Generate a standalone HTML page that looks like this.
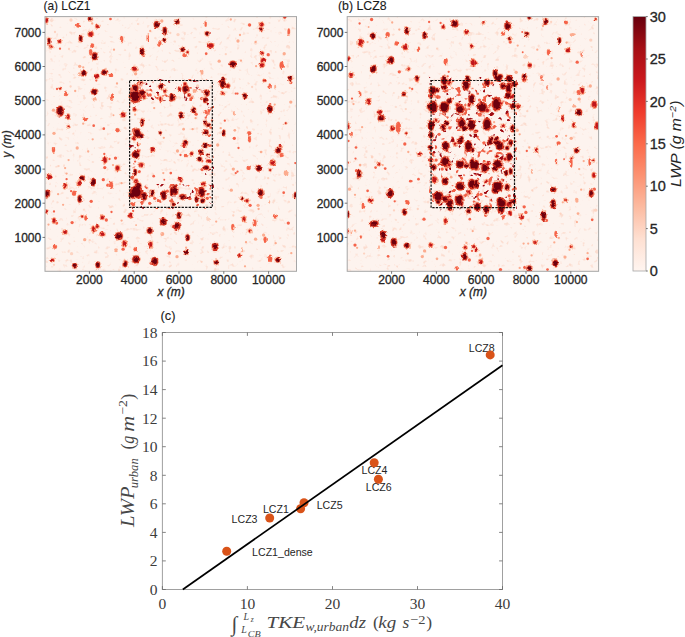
<!DOCTYPE html><html><head><meta charset="utf-8"><style>html,body{margin:0;padding:0;background:#fff;width:685px;height:637px;overflow:hidden}svg{display:block}text{font-family:"Liberation Sans",sans-serif}.b{stroke:#262626;stroke-width:0.3px}.t{stroke:#1a1a1a;stroke-width:0.12px}.s text{font-family:"Liberation Serif",serif}.s .n{font-style:normal}</style></head><body>
<svg width="685" height="637" viewBox="0 0 685 637">
<defs><linearGradient id="cb" x1="0" y1="1" x2="0" y2="0">
<stop offset="0.0000" stop-color="#fff5f0"/>
<stop offset="0.1250" stop-color="#fee0d2"/>
<stop offset="0.2500" stop-color="#fcbba1"/>
<stop offset="0.3750" stop-color="#fc9272"/>
<stop offset="0.5000" stop-color="#fb6a4a"/>
<stop offset="0.6250" stop-color="#ef3b2c"/>
<stop offset="0.7500" stop-color="#cb181d"/>
<stop offset="0.8750" stop-color="#a50f15"/>
<stop offset="1.0000" stop-color="#67000d"/>
</linearGradient>
<clipPath id="ca"><rect x="45.0" y="16.6" width="251.5" height="254.70000000000002"/></clipPath>
<clipPath id="cbb"><rect x="347.2" y="16.6" width="251.40000000000003" height="254.70000000000002"/></clipPath>
<filter id="bl" color-interpolation-filters="sRGB" x="-5%" y="-5%" width="110%" height="110%"><feTurbulence type="fractalNoise" baseFrequency="0.3" numOctaves="2" seed="3" result="t"/><feDisplacementMap in="SourceGraphic" in2="t" scale="3.2" xChannelSelector="R" yChannelSelector="G" result="d"/><feGaussianBlur in="d" stdDeviation="0.4"/></filter>
<filter id="spk" color-interpolation-filters="sRGB" x="0" y="0" width="100%" height="100%"><feTurbulence type="fractalNoise" baseFrequency="0.22" numOctaves="2" seed="11" result="n"/><feColorMatrix in="n" type="matrix" values="0 0 0 0 0.985  0 0 0 0 0.80  0 0 0 0 0.72  1 0 0 0 0" result="c"/><feComponentTransfer in="c"><feFuncA type="linear" slope="5" intercept="-3.1"/></feComponentTransfer></filter>
<filter id="bl2" color-interpolation-filters="sRGB" x="-5%" y="-5%" width="110%" height="110%"><feTurbulence type="fractalNoise" baseFrequency="0.5" numOctaves="2" seed="8" result="t"/><feDisplacementMap in="SourceGraphic" in2="t" scale="4" xChannelSelector="R" yChannelSelector="G" result="d"/><feGaussianBlur in="d" stdDeviation="0.5"/></filter>
<filter id="frg" color-interpolation-filters="sRGB" x="0" y="0" width="100%" height="100%"><feTurbulence type="fractalNoise" baseFrequency="0.16" numOctaves="2" seed="21" result="n"/><feColorMatrix in="n" type="matrix" values="0 0 0 0 0.94  0 0 0 0 0.38  0 0 0 0 0.28  1 0 0 0 0" result="c"/><feComponentTransfer in="c"><feFuncA type="linear" slope="12" intercept="-7.5"/></feComponentTransfer><feGaussianBlur stdDeviation="0.3"/></filter>
<filter id="frg2" color-interpolation-filters="sRGB" x="0" y="0" width="100%" height="100%"><feTurbulence type="fractalNoise" baseFrequency="0.18" numOctaves="2" seed="5" result="n"/><feColorMatrix in="n" type="matrix" values="0 0 0 0 0.62  0 0 0 0 0.04  0 0 0 0 0.07  1 0 0 0 0" result="c"/><feComponentTransfer in="c"><feFuncA type="linear" slope="12" intercept="-8.1"/></feComponentTransfer><feGaussianBlur stdDeviation="0.3"/></filter>
<clipPath id="ringA"><path clip-rule="evenodd" d="M129,79 H214 V209 H129 Z M136,101 H205 V184 H136 Z"/></clipPath>
<clipPath id="rectB"><rect x="429" y="77" width="88" height="134"/></clipPath>
<filter id="sb" color-interpolation-filters="sRGB" x="-5%" y="-5%" width="110%" height="110%"><feGaussianBlur stdDeviation="0.45"/></filter>
</defs>
<rect x="45.0" y="16.6" width="251.5" height="254.70000000000002" fill="#fdf3ee"/>
<rect x="45.0" y="16.6" width="251.5" height="254.70000000000002" fill="#fff" filter="url(#spk)" opacity="0.55"/>
<g clip-path="url(#ringA)"><rect x="129" y="79" width="85" height="130" fill="#fff" filter="url(#frg)"/><rect x="129" y="79" width="85" height="130" fill="#fff" filter="url(#frg2)"/></g>
<g clip-path="url(#ca)"><g filter="url(#sb)"><ellipse cx="71.0" cy="20.0" rx="1.65" ry="1.65" fill="#fdd3c1"/><ellipse cx="55.0" cy="32.0" rx="1.15" ry="1.15" fill="#fdd3c1"/><ellipse cx="69.0" cy="49.0" rx="1.15" ry="1.15" fill="#fdd3c1"/><ellipse cx="170.3" cy="33.0" rx="1.15" ry="1.15" fill="#fdd3c1"/><ellipse cx="138.0" cy="24.0" rx="0.95" ry="0.95" fill="#fdd3c1"/><ellipse cx="178.0" cy="34.6" rx="1.65" ry="1.65" fill="#fdd3c1"/><ellipse cx="225.8" cy="54.2" rx="1.15" ry="1.15" fill="#fdd3c1"/><ellipse cx="70.6" cy="86.5" rx="1.15" ry="1.15" fill="#fdd3c1"/><ellipse cx="197.6" cy="86.0" rx="1.65" ry="1.65" fill="#fdd3c1"/><ellipse cx="252.1" cy="87.0" rx="1.15" ry="1.15" fill="#fdd3c1"/><ellipse cx="58.6" cy="166.1" rx="1.15" ry="1.15" fill="#fdd3c1"/><ellipse cx="268.2" cy="178.2" rx="1.15" ry="1.15" fill="#fdd3c1"/><ellipse cx="71.6" cy="253.7" rx="1.65" ry="1.65" fill="#fdd3c1"/><ellipse cx="54.0" cy="264.8" rx="1.15" ry="1.15" fill="#fdd3c1"/><ellipse cx="89.7" cy="240.2" rx="1.15" ry="1.15" fill="#fdd3c1"/><ellipse cx="201.6" cy="261.8" rx="1.15" ry="1.15" fill="#fdd3c1"/><ellipse cx="233.3" cy="215.5" rx="1.15" ry="1.15" fill="#fdd3c1"/><ellipse cx="92.2" cy="23.5" rx="1.15" ry="1.15" fill="#fcac8f"/><ellipse cx="79.7" cy="66.3" rx="1.65" ry="1.65" fill="#fcac8f"/><ellipse cx="83.2" cy="67.3" rx="1.15" ry="1.15" fill="#fcac8f"/><ellipse cx="105.3" cy="69.3" rx="1.15" ry="1.15" fill="#fcac8f"/><ellipse cx="161.8" cy="21.0" rx="1.65" ry="1.65" fill="#fcac8f"/><ellipse cx="150.2" cy="31.0" rx="1.15" ry="1.15" fill="#fcac8f"/><ellipse cx="114.0" cy="49.7" rx="1.15" ry="1.15" fill="#fcac8f"/><ellipse cx="135.6" cy="73.8" rx="1.65" ry="1.65" fill="#fcac8f"/><ellipse cx="219.2" cy="61.2" rx="1.65" ry="1.65" fill="#fcac8f"/><ellipse cx="230.8" cy="19.5" rx="1.15" ry="1.15" fill="#fcac8f"/><ellipse cx="240.0" cy="35.0" rx="1.15" ry="1.15" fill="#fcac8f"/><ellipse cx="238.0" cy="41.0" rx="1.65" ry="1.65" fill="#fcac8f"/><ellipse cx="255.6" cy="42.0" rx="1.15" ry="1.15" fill="#fcac8f"/><ellipse cx="284.2" cy="53.7" rx="1.65" ry="1.65" fill="#fcac8f"/><ellipse cx="241.0" cy="60.7" rx="1.15" ry="1.15" fill="#fcac8f"/><ellipse cx="256.1" cy="66.2" rx="1.15" ry="1.15" fill="#fcac8f"/><ellipse cx="53.5" cy="110.2" rx="1.65" ry="1.65" fill="#fcac8f"/><ellipse cx="83.2" cy="123.7" rx="1.15" ry="1.15" fill="#fcac8f"/><ellipse cx="54.0" cy="133.3" rx="1.65" ry="1.65" fill="#fcac8f"/><ellipse cx="92.7" cy="139.3" rx="1.15" ry="1.15" fill="#fcac8f"/><ellipse cx="75.2" cy="91.0" rx="1.15" ry="1.15" fill="#fcac8f"/><ellipse cx="154.2" cy="108.1" rx="1.15" ry="1.15" fill="#fcac8f"/><ellipse cx="163.8" cy="137.8" rx="1.15" ry="1.15" fill="#fcac8f"/><ellipse cx="135.1" cy="114.7" rx="1.15" ry="1.15" fill="#fcac8f"/><ellipse cx="117.0" cy="83.5" rx="1.15" ry="1.15" fill="#fcac8f"/><ellipse cx="113.5" cy="115.2" rx="0.95" ry="0.95" fill="#fcac8f"/><ellipse cx="195.6" cy="118.2" rx="1.15" ry="1.15" fill="#fcac8f"/><ellipse cx="183.6" cy="129.2" rx="1.35" ry="1.35" fill="#fcac8f"/><ellipse cx="192.6" cy="129.2" rx="1.15" ry="1.15" fill="#fcac8f"/><ellipse cx="220.7" cy="128.2" rx="1.15" ry="1.15" fill="#fcac8f"/><ellipse cx="234.8" cy="130.3" rx="1.35" ry="1.35" fill="#fcac8f"/><ellipse cx="290.8" cy="102.1" rx="1.65" ry="1.65" fill="#fcac8f"/><ellipse cx="274.7" cy="104.6" rx="1.15" ry="1.15" fill="#fcac8f"/><ellipse cx="77.2" cy="148.0" rx="1.65" ry="1.65" fill="#fcac8f"/><ellipse cx="91.2" cy="182.2" rx="1.65" ry="1.65" fill="#fcac8f"/><ellipse cx="66.6" cy="173.6" rx="1.15" ry="1.15" fill="#fcac8f"/><ellipse cx="65.1" cy="168.1" rx="1.15" ry="1.15" fill="#fcac8f"/><ellipse cx="68.6" cy="160.1" rx="1.15" ry="1.15" fill="#fcac8f"/><ellipse cx="58.1" cy="194.2" rx="1.15" ry="1.15" fill="#fcac8f"/><ellipse cx="63.1" cy="204.8" rx="1.15" ry="1.15" fill="#fcac8f"/><ellipse cx="88.2" cy="151.5" rx="1.15" ry="1.15" fill="#fcac8f"/><ellipse cx="163.3" cy="173.1" rx="1.15" ry="1.15" fill="#fcac8f"/><ellipse cx="121.6" cy="183.2" rx="1.15" ry="1.15" fill="#fcac8f"/><ellipse cx="113.0" cy="165.1" rx="1.15" ry="1.15" fill="#fcac8f"/><ellipse cx="177.5" cy="151.0" rx="1.65" ry="1.65" fill="#fcac8f"/><ellipse cx="180.0" cy="184.2" rx="1.15" ry="1.15" fill="#fcac8f"/><ellipse cx="233.3" cy="169.1" rx="1.65" ry="1.65" fill="#fcac8f"/><ellipse cx="231.3" cy="190.2" rx="1.65" ry="1.65" fill="#fcac8f"/><ellipse cx="217.7" cy="145.0" rx="1.65" ry="1.65" fill="#fcac8f"/><ellipse cx="261.1" cy="152.0" rx="1.35" ry="1.35" fill="#fcac8f"/><ellipse cx="258.1" cy="205.3" rx="1.65" ry="1.65" fill="#fcac8f"/><ellipse cx="84.7" cy="239.7" rx="1.65" ry="1.65" fill="#fcac8f"/><ellipse cx="48.5" cy="224.6" rx="1.15" ry="1.15" fill="#fcac8f"/><ellipse cx="121.6" cy="220.6" rx="1.15" ry="1.15" fill="#fcac8f"/><ellipse cx="136.1" cy="225.1" rx="0.95" ry="0.95" fill="#fcac8f"/><ellipse cx="186.1" cy="247.7" rx="1.15" ry="1.15" fill="#fcac8f"/><ellipse cx="216.2" cy="221.6" rx="1.15" ry="1.15" fill="#fcac8f"/><ellipse cx="177.0" cy="256.7" rx="1.65" ry="1.65" fill="#fcac8f"/><ellipse cx="255.6" cy="239.2" rx="1.65" ry="1.65" fill="#fcac8f"/><ellipse cx="291.3" cy="253.2" rx="1.15" ry="1.15" fill="#fcac8f"/><ellipse cx="246.0" cy="242.2" rx="1.15" ry="1.15" fill="#fcac8f"/><ellipse cx="258.6" cy="209.0" rx="1.15" ry="1.15" fill="#fcac8f"/><ellipse cx="263.6" cy="235.1" rx="1.65" ry="1.65" fill="#fcac8f"/><ellipse cx="275.7" cy="243.2" rx="1.15" ry="1.15" fill="#fcac8f"/><ellipse cx="245.0" cy="266.3" rx="1.15" ry="1.15" fill="#fcac8f"/><ellipse cx="60.0" cy="48.7" rx="1.15" ry="1.15" fill="#f5634a"/><ellipse cx="110.5" cy="19.0" rx="1.35" ry="1.35" fill="#f5634a"/><ellipse cx="143.7" cy="55.7" rx="1.35" ry="1.35" fill="#f5634a"/><ellipse cx="206.2" cy="53.7" rx="1.35" ry="1.35" fill="#f5634a"/><ellipse cx="249.6" cy="25.0" rx="1.65" ry="1.65" fill="#f5634a"/><ellipse cx="268.2" cy="54.7" rx="1.65" ry="1.65" fill="#f5634a"/><ellipse cx="57.0" cy="89.0" rx="1.15" ry="1.15" fill="#f5634a"/><ellipse cx="93.7" cy="125.7" rx="1.35" ry="1.35" fill="#f5634a"/><ellipse cx="103.8" cy="128.7" rx="1.35" ry="1.35" fill="#f5634a"/><ellipse cx="96.3" cy="80.5" rx="1.15" ry="1.15" fill="#f5634a"/><ellipse cx="158.2" cy="95.0" rx="1.15" ry="1.15" fill="#f5634a"/><ellipse cx="150.2" cy="95.0" rx="1.65" ry="1.65" fill="#f5634a"/><ellipse cx="147.7" cy="94.6" rx="1.15" ry="1.15" fill="#f5634a"/><ellipse cx="201.6" cy="98.6" rx="1.65" ry="1.65" fill="#f5634a"/><ellipse cx="196.1" cy="114.2" rx="1.65" ry="1.65" fill="#f5634a"/><ellipse cx="205.7" cy="117.7" rx="1.15" ry="1.15" fill="#f5634a"/><ellipse cx="210.7" cy="127.2" rx="1.65" ry="1.65" fill="#f5634a"/><ellipse cx="224.8" cy="120.7" rx="1.15" ry="1.15" fill="#f5634a"/><ellipse cx="234.3" cy="138.3" rx="1.65" ry="1.65" fill="#f5634a"/><ellipse cx="235.8" cy="93.6" rx="1.15" ry="1.15" fill="#f5634a"/><ellipse cx="270.2" cy="104.1" rx="1.15" ry="1.15" fill="#f5634a"/><ellipse cx="290.8" cy="82.5" rx="1.65" ry="1.65" fill="#f5634a"/><ellipse cx="237.5" cy="93.6" rx="1.15" ry="1.15" fill="#f5634a"/><ellipse cx="71.1" cy="191.2" rx="1.15" ry="1.15" fill="#f5634a"/><ellipse cx="104.8" cy="167.6" rx="1.65" ry="1.65" fill="#f5634a"/><ellipse cx="104.3" cy="154.0" rx="1.15" ry="1.15" fill="#f5634a"/><ellipse cx="103.3" cy="179.7" rx="1.65" ry="1.65" fill="#f5634a"/><ellipse cx="107.8" cy="185.2" rx="1.65" ry="1.65" fill="#f5634a"/><ellipse cx="66.6" cy="179.2" rx="1.15" ry="1.15" fill="#f5634a"/><ellipse cx="91.2" cy="201.3" rx="1.65" ry="1.65" fill="#f5634a"/><ellipse cx="135.1" cy="161.6" rx="1.15" ry="1.15" fill="#f5634a"/><ellipse cx="139.2" cy="171.6" rx="1.65" ry="1.65" fill="#f5634a"/><ellipse cx="154.7" cy="198.3" rx="1.65" ry="1.65" fill="#f5634a"/><ellipse cx="167.3" cy="191.2" rx="1.65" ry="1.65" fill="#f5634a"/><ellipse cx="149.7" cy="203.3" rx="1.65" ry="1.65" fill="#f5634a"/><ellipse cx="153.7" cy="176.2" rx="1.35" ry="1.35" fill="#f5634a"/><ellipse cx="170.8" cy="173.1" rx="1.35" ry="1.35" fill="#f5634a"/><ellipse cx="164.3" cy="179.7" rx="0.95" ry="0.95" fill="#f5634a"/><ellipse cx="115.5" cy="158.1" rx="1.65" ry="1.65" fill="#f5634a"/><ellipse cx="109.5" cy="159.0" rx="1.15" ry="1.15" fill="#f5634a"/><ellipse cx="202.1" cy="161.1" rx="1.35" ry="1.35" fill="#f5634a"/><ellipse cx="202.1" cy="169.6" rx="1.65" ry="1.65" fill="#f5634a"/><ellipse cx="180.5" cy="155.0" rx="1.15" ry="1.15" fill="#f5634a"/><ellipse cx="207.2" cy="198.3" rx="1.65" ry="1.65" fill="#f5634a"/><ellipse cx="235.8" cy="173.1" rx="1.15" ry="1.15" fill="#f5634a"/><ellipse cx="261.1" cy="197.3" rx="1.65" ry="1.65" fill="#f5634a"/><ellipse cx="250.1" cy="205.3" rx="1.65" ry="1.65" fill="#f5634a"/><ellipse cx="295.3" cy="163.1" rx="1.15" ry="1.15" fill="#f5634a"/><ellipse cx="283.7" cy="192.7" rx="1.35" ry="1.35" fill="#f5634a"/><ellipse cx="238.5" cy="148.0" rx="1.15" ry="1.15" fill="#f5634a"/><ellipse cx="237.5" cy="171.6" rx="1.15" ry="1.15" fill="#f5634a"/><ellipse cx="54.0" cy="211.5" rx="1.15" ry="1.15" fill="#f5634a"/><ellipse cx="56.6" cy="223.1" rx="1.65" ry="1.65" fill="#f5634a"/><ellipse cx="72.1" cy="222.6" rx="1.65" ry="1.65" fill="#f5634a"/><ellipse cx="106.3" cy="220.0" rx="1.65" ry="1.65" fill="#f5634a"/><ellipse cx="133.1" cy="211.0" rx="1.15" ry="1.15" fill="#f5634a"/><ellipse cx="123.1" cy="249.2" rx="1.65" ry="1.65" fill="#f5634a"/><ellipse cx="133.6" cy="261.3" rx="1.65" ry="1.65" fill="#f5634a"/><ellipse cx="151.2" cy="263.3" rx="1.65" ry="1.65" fill="#f5634a"/><ellipse cx="169.3" cy="253.2" rx="1.65" ry="1.65" fill="#f5634a"/><ellipse cx="111.5" cy="212.0" rx="1.15" ry="1.15" fill="#f5634a"/><ellipse cx="288.3" cy="223.1" rx="1.65" ry="1.65" fill="#f5634a"/></g><g filter="url(#bl2)"><ellipse cx="46.5" cy="20.5" rx="2.30" ry="3.60" fill="#fcc0a8"/><ellipse cx="90.2" cy="19.0" rx="3.10" ry="3.10" fill="#fcc0a8"/><ellipse cx="97.3" cy="26.5" rx="2.60" ry="2.60" fill="#fcc0a8"/><ellipse cx="90.7" cy="34.0" rx="3.60" ry="3.60" fill="#fcc0a8"/><ellipse cx="80.7" cy="38.6" rx="2.60" ry="4.10" fill="#fcc0a8"/><ellipse cx="49.0" cy="41.0" rx="2.30" ry="4.10" fill="#fcc0a8"/><ellipse cx="51.0" cy="47.0" rx="2.60" ry="2.60" fill="#fcc0a8"/><ellipse cx="59.6" cy="41.6" rx="2.60" ry="2.60" fill="#fcc0a8"/><ellipse cx="94.7" cy="56.2" rx="3.60" ry="4.60" fill="#fcc0a8"/><ellipse cx="83.7" cy="73.3" rx="3.60" ry="3.60" fill="#fcc0a8"/><ellipse cx="104.3" cy="72.3" rx="3.60" ry="3.60" fill="#fcc0a8"/><ellipse cx="96.8" cy="76.3" rx="3.10" ry="3.10" fill="#fcc0a8"/><ellipse cx="156.7" cy="24.5" rx="3.60" ry="4.10" fill="#fcc0a8"/><ellipse cx="164.8" cy="31.0" rx="2.90" ry="5.10" fill="#fcc0a8"/><ellipse cx="164.3" cy="40.0" rx="2.60" ry="2.60" fill="#fcc0a8"/><ellipse cx="142.2" cy="51.7" rx="3.10" ry="4.60" fill="#fcc0a8"/><ellipse cx="134.6" cy="68.8" rx="3.60" ry="3.10" fill="#fcc0a8"/><ellipse cx="177.0" cy="22.0" rx="3.30" ry="3.30" fill="#fcc0a8"/><ellipse cx="207.2" cy="33.6" rx="3.10" ry="3.10" fill="#fcc0a8"/><ellipse cx="210.7" cy="45.6" rx="4.10" ry="3.60" fill="#fcc0a8"/><ellipse cx="182.5" cy="49.7" rx="2.90" ry="2.90" fill="#fcc0a8"/><ellipse cx="187.6" cy="52.2" rx="2.10" ry="2.10" fill="#fcc0a8"/><ellipse cx="232.8" cy="64.2" rx="4.10" ry="4.10" fill="#fcc0a8"/><ellipse cx="223.2" cy="79.3" rx="2.60" ry="2.60" fill="#fcc0a8"/><ellipse cx="261.6" cy="24.5" rx="3.10" ry="3.10" fill="#fcc0a8"/><ellipse cx="261.1" cy="29.6" rx="2.30" ry="3.10" fill="#fcc0a8"/><ellipse cx="262.1" cy="53.2" rx="2.60" ry="2.60" fill="#fcc0a8"/><ellipse cx="263.1" cy="60.2" rx="3.10" ry="3.10" fill="#fcc0a8"/><ellipse cx="262.1" cy="65.2" rx="3.10" ry="3.10" fill="#fcc0a8"/><ellipse cx="290.3" cy="77.8" rx="2.60" ry="2.60" fill="#fcc0a8"/><ellipse cx="284.7" cy="17.2" rx="2.30" ry="2.30" fill="#fcc0a8"/><ellipse cx="60.1" cy="111.2" rx="4.60" ry="6.10" fill="#fcc0a8"/><ellipse cx="68.1" cy="116.7" rx="2.60" ry="3.60" fill="#fcc0a8"/><ellipse cx="94.2" cy="91.6" rx="4.10" ry="3.60" fill="#fcc0a8"/><ellipse cx="60.1" cy="88.5" rx="2.10" ry="2.10" fill="#fcc0a8"/><ellipse cx="68.6" cy="126.7" rx="2.10" ry="2.10" fill="#fcc0a8"/><ellipse cx="135.1" cy="96.1" rx="6.60" ry="7.60" fill="#fcc0a8"/><ellipse cx="135.1" cy="88.0" rx="4.10" ry="4.10" fill="#fcc0a8"/><ellipse cx="142.2" cy="93.0" rx="4.60" ry="4.10" fill="#fcc0a8"/><ellipse cx="143.7" cy="97.0" rx="3.10" ry="3.10" fill="#fcc0a8"/><ellipse cx="141.2" cy="83.0" rx="2.30" ry="2.30" fill="#fcc0a8"/><ellipse cx="160.8" cy="86.5" rx="3.10" ry="3.60" fill="#fcc0a8"/><ellipse cx="164.8" cy="91.0" rx="2.60" ry="2.60" fill="#fcc0a8"/><ellipse cx="160.8" cy="99.1" rx="2.60" ry="3.60" fill="#fcc0a8"/><ellipse cx="171.8" cy="97.6" rx="3.10" ry="4.60" fill="#fcc0a8"/><ellipse cx="134.6" cy="109.6" rx="2.60" ry="2.60" fill="#fcc0a8"/><ellipse cx="123.1" cy="114.7" rx="3.30" ry="3.30" fill="#fcc0a8"/><ellipse cx="142.2" cy="122.2" rx="2.40" ry="4.60" fill="#fcc0a8"/><ellipse cx="137.1" cy="133.3" rx="4.60" ry="5.60" fill="#fcc0a8"/><ellipse cx="141.2" cy="135.8" rx="3.10" ry="3.10" fill="#fcc0a8"/><ellipse cx="134.1" cy="138.3" rx="3.10" ry="3.10" fill="#fcc0a8"/><ellipse cx="160.3" cy="132.8" rx="2.30" ry="2.30" fill="#fcc0a8"/><ellipse cx="174.0" cy="99.0" rx="2.10" ry="2.10" fill="#fcc0a8"/><ellipse cx="185.6" cy="89.0" rx="4.10" ry="4.60" fill="#fcc0a8"/><ellipse cx="185.0" cy="84.0" rx="2.60" ry="2.60" fill="#fcc0a8"/><ellipse cx="189.1" cy="95.0" rx="2.60" ry="2.60" fill="#fcc0a8"/><ellipse cx="179.5" cy="89.0" rx="2.60" ry="2.60" fill="#fcc0a8"/><ellipse cx="206.7" cy="93.0" rx="3.60" ry="4.10" fill="#fcc0a8"/><ellipse cx="205.2" cy="100.1" rx="3.10" ry="3.60" fill="#fcc0a8"/><ellipse cx="193.6" cy="110.2" rx="3.10" ry="3.60" fill="#fcc0a8"/><ellipse cx="181.0" cy="115.2" rx="3.10" ry="4.10" fill="#fcc0a8"/><ellipse cx="205.2" cy="122.7" rx="2.40" ry="3.60" fill="#fcc0a8"/><ellipse cx="208.2" cy="125.2" rx="2.60" ry="2.60" fill="#fcc0a8"/><ellipse cx="205.7" cy="132.3" rx="3.60" ry="3.60" fill="#fcc0a8"/><ellipse cx="185.6" cy="142.3" rx="3.10" ry="3.10" fill="#fcc0a8"/><ellipse cx="222.7" cy="84.0" rx="3.60" ry="5.10" fill="#fcc0a8"/><ellipse cx="227.8" cy="86.0" rx="3.10" ry="3.10" fill="#fcc0a8"/><ellipse cx="222.2" cy="93.0" rx="2.60" ry="2.60" fill="#fcc0a8"/><ellipse cx="220.2" cy="82.0" rx="2.10" ry="2.10" fill="#fcc0a8"/><ellipse cx="223.8" cy="132.8" rx="2.30" ry="4.10" fill="#fcc0a8"/><ellipse cx="245.0" cy="96.1" rx="2.90" ry="3.60" fill="#fcc0a8"/><ellipse cx="270.2" cy="109.1" rx="3.30" ry="4.60" fill="#fcc0a8"/><ellipse cx="289.8" cy="80.5" rx="2.10" ry="2.10" fill="#fcc0a8"/><ellipse cx="264.1" cy="80.5" rx="2.10" ry="2.10" fill="#fcc0a8"/><ellipse cx="285.7" cy="123.2" rx="1.80" ry="1.80" fill="#fcc0a8"/><ellipse cx="49.5" cy="176.7" rx="3.10" ry="3.10" fill="#fcc0a8"/><ellipse cx="47.0" cy="193.7" rx="3.60" ry="4.60" fill="#fcc0a8"/><ellipse cx="82.2" cy="178.2" rx="3.30" ry="3.30" fill="#fcc0a8"/><ellipse cx="79.2" cy="183.2" rx="2.60" ry="3.60" fill="#fcc0a8"/><ellipse cx="93.2" cy="182.2" rx="2.60" ry="5.10" fill="#fcc0a8"/><ellipse cx="65.1" cy="186.2" rx="2.90" ry="3.60" fill="#fcc0a8"/><ellipse cx="79.7" cy="198.8" rx="2.90" ry="4.60" fill="#fcc0a8"/><ellipse cx="104.8" cy="160.1" rx="3.10" ry="4.10" fill="#fcc0a8"/><ellipse cx="135.6" cy="155.0" rx="4.60" ry="4.60" fill="#fcc0a8"/><ellipse cx="138.1" cy="151.0" rx="2.60" ry="2.60" fill="#fcc0a8"/><ellipse cx="141.2" cy="165.1" rx="3.30" ry="3.30" fill="#fcc0a8"/><ellipse cx="135.1" cy="172.1" rx="2.60" ry="4.10" fill="#fcc0a8"/><ellipse cx="152.7" cy="149.5" rx="3.10" ry="3.10" fill="#fcc0a8"/><ellipse cx="136.1" cy="192.2" rx="7.10" ry="7.10" fill="#fcc0a8"/><ellipse cx="132.1" cy="195.3" rx="4.10" ry="4.10" fill="#fcc0a8"/><ellipse cx="138.1" cy="186.2" rx="4.10" ry="4.10" fill="#fcc0a8"/><ellipse cx="144.2" cy="196.3" rx="3.60" ry="5.10" fill="#fcc0a8"/><ellipse cx="136.1" cy="181.2" rx="3.10" ry="3.10" fill="#fcc0a8"/><ellipse cx="152.2" cy="193.2" rx="3.10" ry="4.10" fill="#fcc0a8"/><ellipse cx="163.8" cy="195.3" rx="3.60" ry="5.60" fill="#fcc0a8"/><ellipse cx="171.8" cy="191.2" rx="2.60" ry="5.10" fill="#fcc0a8"/><ellipse cx="117.5" cy="168.1" rx="3.10" ry="3.60" fill="#fcc0a8"/><ellipse cx="138.1" cy="144.5" rx="2.10" ry="2.10" fill="#fcc0a8"/><ellipse cx="184.1" cy="145.0" rx="3.10" ry="3.10" fill="#fcc0a8"/><ellipse cx="205.2" cy="145.5" rx="3.30" ry="3.30" fill="#fcc0a8"/><ellipse cx="201.1" cy="152.0" rx="3.10" ry="3.60" fill="#fcc0a8"/><ellipse cx="199.6" cy="159.1" rx="3.10" ry="3.10" fill="#fcc0a8"/><ellipse cx="207.7" cy="155.0" rx="2.30" ry="2.30" fill="#fcc0a8"/><ellipse cx="208.7" cy="161.1" rx="3.60" ry="2.60" fill="#fcc0a8"/><ellipse cx="206.2" cy="167.6" rx="3.60" ry="3.10" fill="#fcc0a8"/><ellipse cx="191.6" cy="153.5" rx="2.60" ry="2.60" fill="#fcc0a8"/><ellipse cx="175.0" cy="190.0" rx="4.10" ry="6.10" fill="#fcc0a8"/><ellipse cx="180.5" cy="179.2" rx="2.90" ry="2.90" fill="#fcc0a8"/><ellipse cx="182.5" cy="196.8" rx="4.10" ry="3.60" fill="#fcc0a8"/><ellipse cx="201.6" cy="192.2" rx="4.10" ry="6.10" fill="#fcc0a8"/><ellipse cx="203.7" cy="184.2" rx="3.10" ry="3.10" fill="#fcc0a8"/><ellipse cx="196.6" cy="199.3" rx="2.60" ry="4.10" fill="#fcc0a8"/><ellipse cx="202.6" cy="200.8" rx="3.10" ry="3.10" fill="#fcc0a8"/><ellipse cx="173.5" cy="204.3" rx="2.60" ry="2.60" fill="#fcc0a8"/><ellipse cx="278.2" cy="150.5" rx="3.60" ry="3.60" fill="#fcc0a8"/><ellipse cx="280.2" cy="146.0" rx="2.30" ry="2.30" fill="#fcc0a8"/><ellipse cx="272.7" cy="162.6" rx="3.60" ry="3.60" fill="#fcc0a8"/><ellipse cx="258.6" cy="168.1" rx="3.60" ry="4.10" fill="#fcc0a8"/><ellipse cx="270.2" cy="170.1" rx="2.10" ry="2.10" fill="#fcc0a8"/><ellipse cx="260.6" cy="192.7" rx="3.60" ry="4.60" fill="#fcc0a8"/><ellipse cx="242.0" cy="198.3" rx="2.60" ry="2.60" fill="#fcc0a8"/><ellipse cx="247.0" cy="200.8" rx="2.60" ry="2.60" fill="#fcc0a8"/><ellipse cx="295.3" cy="195.3" rx="2.10" ry="4.10" fill="#fcc0a8"/><ellipse cx="46.5" cy="211.5" rx="2.60" ry="2.60" fill="#fcc0a8"/><ellipse cx="54.0" cy="220.6" rx="2.60" ry="3.60" fill="#fcc0a8"/><ellipse cx="82.2" cy="216.5" rx="2.10" ry="2.10" fill="#fcc0a8"/><ellipse cx="65.1" cy="232.1" rx="3.10" ry="3.10" fill="#fcc0a8"/><ellipse cx="93.7" cy="229.1" rx="2.90" ry="4.10" fill="#fcc0a8"/><ellipse cx="97.3" cy="226.6" rx="2.60" ry="2.60" fill="#fcc0a8"/><ellipse cx="102.3" cy="217.5" rx="2.90" ry="2.90" fill="#fcc0a8"/><ellipse cx="102.3" cy="234.1" rx="3.60" ry="2.90" fill="#fcc0a8"/><ellipse cx="52.5" cy="260.3" rx="2.60" ry="2.60" fill="#fcc0a8"/><ellipse cx="74.6" cy="265.3" rx="3.10" ry="3.10" fill="#fcc0a8"/><ellipse cx="97.8" cy="264.8" rx="3.10" ry="4.10" fill="#fcc0a8"/><ellipse cx="130.6" cy="215.5" rx="2.90" ry="3.60" fill="#fcc0a8"/><ellipse cx="163.3" cy="221.6" rx="4.10" ry="4.60" fill="#fcc0a8"/><ellipse cx="149.7" cy="230.6" rx="3.60" ry="4.10" fill="#fcc0a8"/><ellipse cx="119.0" cy="236.1" rx="4.60" ry="4.60" fill="#fcc0a8"/><ellipse cx="124.6" cy="243.7" rx="3.10" ry="4.10" fill="#fcc0a8"/><ellipse cx="150.7" cy="244.7" rx="2.60" ry="4.60" fill="#fcc0a8"/><ellipse cx="136.1" cy="259.3" rx="4.60" ry="4.60" fill="#fcc0a8"/><ellipse cx="154.7" cy="261.3" rx="4.10" ry="5.10" fill="#fcc0a8"/><ellipse cx="125.1" cy="263.8" rx="3.10" ry="4.10" fill="#fcc0a8"/><ellipse cx="179.0" cy="215.5" rx="3.10" ry="4.10" fill="#fcc0a8"/><ellipse cx="177.0" cy="226.1" rx="4.10" ry="4.60" fill="#fcc0a8"/><ellipse cx="174.0" cy="226.6" rx="2.60" ry="2.60" fill="#fcc0a8"/><ellipse cx="187.6" cy="237.6" rx="2.90" ry="4.10" fill="#fcc0a8"/><ellipse cx="186.1" cy="252.2" rx="2.60" ry="3.10" fill="#fcc0a8"/><ellipse cx="215.2" cy="246.7" rx="4.10" ry="4.10" fill="#fcc0a8"/><ellipse cx="216.2" cy="262.3" rx="3.10" ry="3.10" fill="#fcc0a8"/><ellipse cx="244.0" cy="219.1" rx="2.60" ry="3.60" fill="#fcc0a8"/><ellipse cx="250.1" cy="231.1" rx="2.60" ry="2.60" fill="#fcc0a8"/><ellipse cx="277.7" cy="259.8" rx="3.30" ry="3.30" fill="#fcc0a8"/><ellipse cx="239.5" cy="255.7" rx="2.30" ry="2.30" fill="#fcc0a8"/></g><g filter="url(#bl)"><ellipse cx="46.5" cy="20.5" rx="1.60" ry="2.90" fill="#f26848"/><ellipse cx="90.2" cy="19.0" rx="2.40" ry="2.40" fill="#d0301f"/><ellipse cx="78.2" cy="25.5" rx="2.40" ry="2.40" fill="#fcbba1"/><ellipse cx="97.3" cy="26.5" rx="1.90" ry="1.90" fill="#f26848"/><ellipse cx="90.7" cy="34.0" rx="2.90" ry="2.90" fill="#f26848"/><ellipse cx="80.7" cy="38.6" rx="1.90" ry="3.40" fill="#d0301f"/><ellipse cx="49.0" cy="41.0" rx="1.60" ry="3.40" fill="#d0301f"/><ellipse cx="51.0" cy="47.0" rx="1.90" ry="1.90" fill="#f26848"/><ellipse cx="59.6" cy="41.6" rx="1.90" ry="1.90" fill="#f26848"/><ellipse cx="92.2" cy="45.6" rx="2.40" ry="2.40" fill="#fcbba1"/><ellipse cx="90.7" cy="52.2" rx="1.90" ry="3.40" fill="#fcbba1"/><ellipse cx="94.7" cy="56.2" rx="2.90" ry="3.90" fill="#d0301f"/><ellipse cx="83.7" cy="73.3" rx="2.90" ry="2.90" fill="#d0301f"/><ellipse cx="104.3" cy="72.3" rx="2.90" ry="2.90" fill="#d0301f"/><ellipse cx="96.8" cy="76.3" rx="2.40" ry="2.40" fill="#f26848"/><ellipse cx="156.7" cy="24.5" rx="2.90" ry="3.40" fill="#d0301f"/><ellipse cx="164.8" cy="31.0" rx="2.20" ry="4.40" fill="#d0301f"/><ellipse cx="164.3" cy="40.0" rx="1.90" ry="1.90" fill="#d0301f"/><ellipse cx="159.3" cy="43.6" rx="2.40" ry="3.40" fill="#fcbba1"/><ellipse cx="147.7" cy="38.0" rx="1.40" ry="4.40" fill="#fcbba1"/><ellipse cx="121.6" cy="39.6" rx="1.90" ry="3.90" fill="#fcbba1"/><ellipse cx="142.2" cy="51.7" rx="2.40" ry="3.90" fill="#d0301f"/><ellipse cx="134.6" cy="68.8" rx="2.90" ry="2.40" fill="#f26848"/><ellipse cx="111.0" cy="75.8" rx="2.40" ry="2.40" fill="#fcbba1"/><ellipse cx="177.0" cy="22.0" rx="2.60" ry="2.60" fill="#d0301f"/><ellipse cx="205.7" cy="24.0" rx="1.40" ry="3.40" fill="#fcbba1"/><ellipse cx="207.2" cy="33.6" rx="2.40" ry="2.40" fill="#d0301f"/><ellipse cx="210.7" cy="45.6" rx="3.40" ry="2.90" fill="#f26848"/><ellipse cx="182.5" cy="49.7" rx="2.20" ry="2.20" fill="#d0301f"/><ellipse cx="187.6" cy="52.2" rx="1.40" ry="1.40" fill="#f26848"/><ellipse cx="184.6" cy="55.2" rx="2.40" ry="2.40" fill="#fcbba1"/><ellipse cx="232.8" cy="64.2" rx="3.40" ry="3.40" fill="#d0301f"/><ellipse cx="223.2" cy="79.3" rx="1.90" ry="1.90" fill="#d0301f"/><ellipse cx="261.6" cy="24.5" rx="2.40" ry="2.40" fill="#f26848"/><ellipse cx="261.1" cy="29.6" rx="1.60" ry="2.40" fill="#d0301f"/><ellipse cx="288.8" cy="32.0" rx="1.60" ry="3.90" fill="#fcbba1"/><ellipse cx="262.1" cy="53.2" rx="1.90" ry="1.90" fill="#f26848"/><ellipse cx="263.1" cy="60.2" rx="2.40" ry="2.40" fill="#f26848"/><ellipse cx="262.1" cy="65.2" rx="2.40" ry="2.40" fill="#f26848"/><ellipse cx="281.7" cy="65.2" rx="2.40" ry="3.90" fill="#fcbba1"/><ellipse cx="290.3" cy="77.8" rx="1.90" ry="1.90" fill="#d0301f"/><ellipse cx="284.7" cy="17.2" rx="1.60" ry="1.60" fill="#f26848"/><ellipse cx="60.1" cy="111.2" rx="3.90" ry="5.40" fill="#d0301f"/><ellipse cx="68.1" cy="116.7" rx="1.90" ry="2.90" fill="#f26848"/><ellipse cx="94.2" cy="91.6" rx="3.40" ry="2.90" fill="#d0301f"/><ellipse cx="66.1" cy="94.0" rx="2.40" ry="2.40" fill="#fcbba1"/><ellipse cx="60.1" cy="88.5" rx="1.40" ry="1.40" fill="#f26848"/><ellipse cx="85.2" cy="119.2" rx="2.40" ry="2.40" fill="#fcbba1"/><ellipse cx="68.6" cy="126.7" rx="1.40" ry="1.40" fill="#f26848"/><ellipse cx="135.1" cy="96.1" rx="5.90" ry="6.90" fill="#d0301f"/><ellipse cx="135.1" cy="88.0" rx="3.40" ry="3.40" fill="#d0301f"/><ellipse cx="142.2" cy="93.0" rx="3.90" ry="3.40" fill="#d0301f"/><ellipse cx="143.7" cy="97.0" rx="2.40" ry="2.40" fill="#f26848"/><ellipse cx="132.1" cy="90.0" rx="2.40" ry="2.40" fill="#fcbba1"/><ellipse cx="141.2" cy="83.0" rx="1.60" ry="1.60" fill="#d0301f"/><ellipse cx="160.8" cy="86.5" rx="2.40" ry="2.90" fill="#d0301f"/><ellipse cx="164.8" cy="91.0" rx="1.90" ry="1.90" fill="#f26848"/><ellipse cx="160.8" cy="99.1" rx="1.90" ry="2.90" fill="#f26848"/><ellipse cx="171.8" cy="97.6" rx="2.40" ry="3.90" fill="#d0301f"/><ellipse cx="134.6" cy="109.6" rx="1.90" ry="1.90" fill="#f26848"/><ellipse cx="123.1" cy="114.7" rx="2.60" ry="2.60" fill="#f26848"/><ellipse cx="112.0" cy="96.6" rx="2.40" ry="3.40" fill="#fcbba1"/><ellipse cx="142.2" cy="122.2" rx="1.70" ry="3.90" fill="#d0301f"/><ellipse cx="137.1" cy="133.3" rx="3.90" ry="4.90" fill="#d0301f"/><ellipse cx="141.2" cy="135.8" rx="2.40" ry="2.40" fill="#d0301f"/><ellipse cx="134.1" cy="138.3" rx="2.40" ry="2.40" fill="#f26848"/><ellipse cx="117.5" cy="130.2" rx="2.40" ry="2.40" fill="#fcbba1"/><ellipse cx="160.3" cy="132.8" rx="1.60" ry="1.60" fill="#d0301f"/><ellipse cx="174.0" cy="99.0" rx="1.40" ry="1.40" fill="#f26848"/><ellipse cx="185.6" cy="89.0" rx="3.40" ry="3.90" fill="#d0301f"/><ellipse cx="185.0" cy="84.0" rx="1.90" ry="1.90" fill="#f26848"/><ellipse cx="189.1" cy="95.0" rx="1.90" ry="1.90" fill="#f26848"/><ellipse cx="179.5" cy="89.0" rx="1.90" ry="1.90" fill="#f26848"/><ellipse cx="206.7" cy="93.0" rx="2.90" ry="3.40" fill="#d0301f"/><ellipse cx="205.2" cy="100.1" rx="2.40" ry="2.90" fill="#d0301f"/><ellipse cx="193.6" cy="110.2" rx="2.40" ry="2.90" fill="#d0301f"/><ellipse cx="181.0" cy="115.2" rx="2.40" ry="3.40" fill="#d0301f"/><ellipse cx="205.7" cy="112.2" rx="2.40" ry="2.40" fill="#fcbba1"/><ellipse cx="205.2" cy="122.7" rx="1.70" ry="2.90" fill="#d0301f"/><ellipse cx="208.2" cy="125.2" rx="1.90" ry="1.90" fill="#d0301f"/><ellipse cx="205.7" cy="132.3" rx="2.90" ry="2.90" fill="#d0301f"/><ellipse cx="185.6" cy="142.3" rx="2.40" ry="2.40" fill="#d0301f"/><ellipse cx="222.7" cy="84.0" rx="2.90" ry="4.40" fill="#d0301f"/><ellipse cx="227.8" cy="86.0" rx="2.40" ry="2.40" fill="#f26848"/><ellipse cx="222.2" cy="93.0" rx="1.90" ry="1.90" fill="#f26848"/><ellipse cx="220.2" cy="82.0" rx="1.40" ry="1.40" fill="#f26848"/><ellipse cx="223.8" cy="132.8" rx="1.60" ry="3.40" fill="#d0301f"/><ellipse cx="245.0" cy="96.1" rx="2.20" ry="2.90" fill="#d0301f"/><ellipse cx="270.2" cy="109.1" rx="2.60" ry="3.90" fill="#d0301f"/><ellipse cx="269.7" cy="86.0" rx="1.40" ry="2.90" fill="#fcbba1"/><ellipse cx="289.8" cy="80.5" rx="1.40" ry="1.40" fill="#d0301f"/><ellipse cx="249.1" cy="133.3" rx="2.40" ry="2.40" fill="#fcbba1"/><ellipse cx="249.6" cy="139.3" rx="1.70" ry="3.40" fill="#fcbba1"/><ellipse cx="264.1" cy="80.5" rx="1.40" ry="1.40" fill="#f26848"/><ellipse cx="285.7" cy="123.2" rx="1.10" ry="1.10" fill="#f26848"/><ellipse cx="53.5" cy="150.0" rx="1.90" ry="2.90" fill="#fcbba1"/><ellipse cx="49.5" cy="176.7" rx="2.40" ry="2.40" fill="#f26848"/><ellipse cx="47.0" cy="193.7" rx="2.90" ry="3.90" fill="#d0301f"/><ellipse cx="82.2" cy="178.2" rx="2.60" ry="2.60" fill="#d0301f"/><ellipse cx="79.2" cy="183.2" rx="1.90" ry="2.90" fill="#f26848"/><ellipse cx="93.2" cy="182.2" rx="1.90" ry="4.40" fill="#d0301f"/><ellipse cx="65.1" cy="186.2" rx="2.20" ry="2.90" fill="#f26848"/><ellipse cx="79.7" cy="198.8" rx="2.20" ry="3.90" fill="#d0301f"/><ellipse cx="74.1" cy="193.2" rx="2.40" ry="2.90" fill="#fcbba1"/><ellipse cx="104.8" cy="160.1" rx="2.40" ry="3.40" fill="#f26848"/><ellipse cx="135.6" cy="155.0" rx="3.90" ry="3.90" fill="#d0301f"/><ellipse cx="138.1" cy="151.0" rx="1.90" ry="1.90" fill="#f26848"/><ellipse cx="141.2" cy="165.1" rx="2.60" ry="2.60" fill="#f26848"/><ellipse cx="135.1" cy="172.1" rx="1.90" ry="3.40" fill="#d0301f"/><ellipse cx="152.7" cy="149.5" rx="2.40" ry="2.40" fill="#f26848"/><ellipse cx="136.1" cy="192.2" rx="6.40" ry="6.40" fill="#d0301f"/><ellipse cx="132.1" cy="195.3" rx="3.40" ry="3.40" fill="#d0301f"/><ellipse cx="138.1" cy="186.2" rx="3.40" ry="3.40" fill="#d0301f"/><ellipse cx="144.2" cy="196.3" rx="2.90" ry="4.40" fill="#d0301f"/><ellipse cx="136.1" cy="181.2" rx="2.40" ry="2.40" fill="#f26848"/><ellipse cx="133.1" cy="204.3" rx="2.40" ry="2.40" fill="#fcbba1"/><ellipse cx="152.2" cy="193.2" rx="2.40" ry="3.40" fill="#d0301f"/><ellipse cx="163.8" cy="195.3" rx="2.90" ry="4.90" fill="#d0301f"/><ellipse cx="171.8" cy="191.2" rx="1.90" ry="4.40" fill="#d0301f"/><ellipse cx="117.5" cy="168.1" rx="2.40" ry="2.90" fill="#f26848"/><ellipse cx="111.0" cy="185.2" rx="2.40" ry="3.90" fill="#fcbba1"/><ellipse cx="138.1" cy="144.5" rx="1.40" ry="1.40" fill="#f26848"/><ellipse cx="184.1" cy="145.0" rx="2.40" ry="2.40" fill="#f26848"/><ellipse cx="205.2" cy="145.5" rx="2.60" ry="2.60" fill="#d0301f"/><ellipse cx="201.1" cy="152.0" rx="2.40" ry="2.90" fill="#d0301f"/><ellipse cx="199.6" cy="159.1" rx="2.40" ry="2.40" fill="#d0301f"/><ellipse cx="207.7" cy="155.0" rx="1.60" ry="1.60" fill="#d0301f"/><ellipse cx="208.7" cy="161.1" rx="2.90" ry="1.90" fill="#f26848"/><ellipse cx="206.2" cy="167.6" rx="2.90" ry="2.40" fill="#d0301f"/><ellipse cx="191.6" cy="153.5" rx="1.90" ry="1.90" fill="#f26848"/><ellipse cx="186.1" cy="155.6" rx="2.40" ry="1.90" fill="#fcbba1"/><ellipse cx="175.0" cy="190.0" rx="3.40" ry="5.40" fill="#d0301f"/><ellipse cx="180.5" cy="179.2" rx="2.20" ry="2.20" fill="#f26848"/><ellipse cx="182.5" cy="196.8" rx="3.40" ry="2.90" fill="#d0301f"/><ellipse cx="201.6" cy="192.2" rx="3.40" ry="5.40" fill="#d0301f"/><ellipse cx="203.7" cy="184.2" rx="2.40" ry="2.40" fill="#f26848"/><ellipse cx="196.6" cy="199.3" rx="1.90" ry="3.40" fill="#d0301f"/><ellipse cx="202.6" cy="200.8" rx="2.40" ry="2.40" fill="#d0301f"/><ellipse cx="173.5" cy="204.3" rx="1.90" ry="1.90" fill="#d0301f"/><ellipse cx="278.2" cy="150.5" rx="2.90" ry="2.90" fill="#d0301f"/><ellipse cx="280.2" cy="146.0" rx="1.60" ry="1.60" fill="#f26848"/><ellipse cx="281.7" cy="155.0" rx="2.40" ry="2.40" fill="#fcbba1"/><ellipse cx="272.7" cy="162.6" rx="2.90" ry="2.90" fill="#f26848"/><ellipse cx="258.6" cy="168.1" rx="2.90" ry="3.40" fill="#d0301f"/><ellipse cx="248.6" cy="168.1" rx="2.40" ry="2.40" fill="#fcbba1"/><ellipse cx="270.2" cy="170.1" rx="1.40" ry="1.40" fill="#f26848"/><ellipse cx="260.6" cy="192.7" rx="2.90" ry="3.90" fill="#d0301f"/><ellipse cx="242.0" cy="198.3" rx="1.90" ry="1.90" fill="#d0301f"/><ellipse cx="247.0" cy="200.8" rx="1.90" ry="1.90" fill="#f26848"/><ellipse cx="295.3" cy="195.3" rx="1.40" ry="3.40" fill="#d0301f"/><ellipse cx="46.5" cy="211.5" rx="1.90" ry="1.90" fill="#f26848"/><ellipse cx="54.0" cy="220.6" rx="1.90" ry="2.90" fill="#f26848"/><ellipse cx="82.2" cy="216.5" rx="1.40" ry="1.40" fill="#f26848"/><ellipse cx="85.7" cy="218.0" rx="1.70" ry="2.90" fill="#fcbba1"/><ellipse cx="65.1" cy="232.1" rx="2.40" ry="2.40" fill="#f26848"/><ellipse cx="93.7" cy="229.1" rx="2.20" ry="3.40" fill="#f26848"/><ellipse cx="97.3" cy="226.6" rx="1.90" ry="1.90" fill="#f26848"/><ellipse cx="102.3" cy="217.5" rx="2.20" ry="2.20" fill="#f26848"/><ellipse cx="102.3" cy="234.1" rx="2.90" ry="2.20" fill="#f26848"/><ellipse cx="55.0" cy="246.7" rx="2.40" ry="2.40" fill="#fcbba1"/><ellipse cx="52.5" cy="260.3" rx="1.90" ry="1.90" fill="#f26848"/><ellipse cx="74.6" cy="265.3" rx="2.40" ry="2.40" fill="#d0301f"/><ellipse cx="97.8" cy="264.8" rx="2.40" ry="3.40" fill="#d0301f"/><ellipse cx="130.6" cy="215.5" rx="2.20" ry="2.90" fill="#f26848"/><ellipse cx="163.3" cy="221.6" rx="3.40" ry="3.90" fill="#d0301f"/><ellipse cx="149.7" cy="230.6" rx="2.90" ry="3.40" fill="#d0301f"/><ellipse cx="119.0" cy="236.1" rx="3.90" ry="3.90" fill="#d0301f"/><ellipse cx="124.6" cy="243.7" rx="2.40" ry="3.40" fill="#f26848"/><ellipse cx="150.7" cy="244.7" rx="1.90" ry="3.90" fill="#f26848"/><ellipse cx="136.1" cy="259.3" rx="3.90" ry="3.90" fill="#d0301f"/><ellipse cx="154.7" cy="261.3" rx="3.40" ry="4.40" fill="#d0301f"/><ellipse cx="125.1" cy="263.8" rx="2.40" ry="3.40" fill="#d0301f"/><ellipse cx="135.6" cy="249.2" rx="2.40" ry="2.40" fill="#fcbba1"/><ellipse cx="179.0" cy="215.5" rx="2.40" ry="3.40" fill="#d0301f"/><ellipse cx="177.0" cy="226.1" rx="3.40" ry="3.90" fill="#d0301f"/><ellipse cx="174.0" cy="226.6" rx="1.90" ry="1.90" fill="#f26848"/><ellipse cx="187.6" cy="237.6" rx="2.20" ry="3.40" fill="#d0301f"/><ellipse cx="186.1" cy="252.2" rx="1.90" ry="2.40" fill="#d0301f"/><ellipse cx="215.2" cy="246.7" rx="3.40" ry="3.40" fill="#d0301f"/><ellipse cx="216.2" cy="262.3" rx="2.40" ry="2.40" fill="#d0301f"/><ellipse cx="232.8" cy="227.1" rx="1.90" ry="3.40" fill="#fcbba1"/><ellipse cx="244.0" cy="219.1" rx="1.90" ry="2.90" fill="#f26848"/><ellipse cx="254.6" cy="223.1" rx="2.20" ry="3.90" fill="#fcbba1"/><ellipse cx="250.1" cy="231.1" rx="1.90" ry="1.90" fill="#f26848"/><ellipse cx="275.2" cy="216.5" rx="2.40" ry="2.40" fill="#fcbba1"/><ellipse cx="265.1" cy="239.2" rx="1.90" ry="2.90" fill="#fcbba1"/><ellipse cx="277.7" cy="259.8" rx="2.60" ry="2.60" fill="#d0301f"/><ellipse cx="270.2" cy="258.3" rx="2.40" ry="3.90" fill="#fcbba1"/><ellipse cx="239.5" cy="255.7" rx="1.60" ry="1.60" fill="#f26848"/><ellipse cx="208.2" cy="219.1" rx="2.00" ry="2.00" fill="#fdd3c1"/><ellipse cx="79.7" cy="74.3" rx="2.00" ry="2.00" fill="#fcac8f"/><ellipse cx="202.1" cy="72.3" rx="1.50" ry="2.50" fill="#fcac8f"/><ellipse cx="94.7" cy="99.6" rx="2.00" ry="2.00" fill="#fcac8f"/><ellipse cx="194.6" cy="91.0" rx="2.00" ry="2.00" fill="#fcac8f"/><ellipse cx="233.8" cy="113.2" rx="1.00" ry="2.00" fill="#fcac8f"/><ellipse cx="275.2" cy="87.0" rx="1.00" ry="2.50" fill="#fcac8f"/><ellipse cx="286.2" cy="173.1" rx="2.50" ry="2.50" fill="#fcac8f"/><ellipse cx="269.2" cy="201.8" rx="1.00" ry="2.00" fill="#fcac8f"/><ellipse cx="116.0" cy="250.2" rx="2.00" ry="2.00" fill="#fcac8f"/><ellipse cx="162.3" cy="234.1" rx="2.00" ry="2.00" fill="#fcac8f"/><ellipse cx="242.0" cy="250.2" rx="1.00" ry="2.00" fill="#fcac8f"/><ellipse cx="78.2" cy="25.5" rx="2.00" ry="2.00" fill="#f5634a"/><ellipse cx="92.2" cy="45.6" rx="2.00" ry="2.00" fill="#f5634a"/><ellipse cx="90.7" cy="52.2" rx="1.50" ry="3.00" fill="#f5634a"/><ellipse cx="159.3" cy="43.6" rx="2.00" ry="3.00" fill="#f5634a"/><ellipse cx="147.7" cy="38.0" rx="1.00" ry="4.00" fill="#f5634a"/><ellipse cx="121.6" cy="39.6" rx="1.50" ry="3.50" fill="#f5634a"/><ellipse cx="111.0" cy="75.8" rx="2.00" ry="2.00" fill="#f5634a"/><ellipse cx="205.7" cy="24.0" rx="1.00" ry="3.00" fill="#f5634a"/><ellipse cx="184.6" cy="55.2" rx="2.00" ry="2.00" fill="#f5634a"/><ellipse cx="288.8" cy="32.0" rx="1.20" ry="3.50" fill="#f5634a"/><ellipse cx="281.7" cy="65.2" rx="2.00" ry="3.50" fill="#f5634a"/><ellipse cx="66.1" cy="94.0" rx="2.00" ry="2.00" fill="#f5634a"/><ellipse cx="85.2" cy="119.2" rx="2.00" ry="2.00" fill="#f5634a"/><ellipse cx="132.1" cy="90.0" rx="2.00" ry="2.00" fill="#f5634a"/><ellipse cx="112.0" cy="96.6" rx="2.00" ry="3.00" fill="#f5634a"/><ellipse cx="117.5" cy="130.2" rx="2.00" ry="2.00" fill="#f5634a"/><ellipse cx="205.7" cy="112.2" rx="2.00" ry="2.00" fill="#f5634a"/><ellipse cx="269.7" cy="86.0" rx="1.00" ry="2.50" fill="#f5634a"/><ellipse cx="249.1" cy="133.3" rx="2.00" ry="2.00" fill="#f5634a"/><ellipse cx="249.6" cy="139.3" rx="1.30" ry="3.00" fill="#f5634a"/><ellipse cx="53.5" cy="150.0" rx="1.50" ry="2.50" fill="#f5634a"/><ellipse cx="74.1" cy="193.2" rx="2.00" ry="2.50" fill="#f5634a"/><ellipse cx="133.1" cy="204.3" rx="2.00" ry="2.00" fill="#f5634a"/><ellipse cx="111.0" cy="185.2" rx="2.00" ry="3.50" fill="#f5634a"/><ellipse cx="186.1" cy="155.6" rx="2.00" ry="1.50" fill="#f5634a"/><ellipse cx="281.7" cy="155.0" rx="2.00" ry="2.00" fill="#f5634a"/><ellipse cx="248.6" cy="168.1" rx="2.00" ry="2.00" fill="#f5634a"/><ellipse cx="85.7" cy="218.0" rx="1.30" ry="2.50" fill="#f5634a"/><ellipse cx="55.0" cy="246.7" rx="2.00" ry="2.00" fill="#f5634a"/><ellipse cx="135.6" cy="249.2" rx="2.00" ry="2.00" fill="#f5634a"/><ellipse cx="232.8" cy="227.1" rx="1.50" ry="3.00" fill="#f5634a"/><ellipse cx="254.6" cy="223.1" rx="1.80" ry="3.50" fill="#f5634a"/><ellipse cx="275.2" cy="216.5" rx="2.00" ry="2.00" fill="#f5634a"/><ellipse cx="265.1" cy="239.2" rx="1.50" ry="2.50" fill="#f5634a"/><ellipse cx="270.2" cy="258.3" rx="2.00" ry="3.50" fill="#f5634a"/><ellipse cx="46.5" cy="20.5" rx="1.02" ry="2.12" fill="#bf151b"/><ellipse cx="97.3" cy="26.5" rx="1.27" ry="1.27" fill="#bf151b"/><ellipse cx="90.7" cy="34.0" rx="2.12" ry="2.12" fill="#bf151b"/><ellipse cx="51.0" cy="47.0" rx="1.27" ry="1.27" fill="#bf151b"/><ellipse cx="59.6" cy="41.6" rx="1.27" ry="1.27" fill="#bf151b"/><ellipse cx="96.8" cy="76.3" rx="1.70" ry="1.70" fill="#bf151b"/><ellipse cx="134.6" cy="68.8" rx="2.12" ry="1.70" fill="#bf151b"/><ellipse cx="210.7" cy="45.6" rx="2.55" ry="2.12" fill="#bf151b"/><ellipse cx="187.6" cy="52.2" rx="0.85" ry="0.85" fill="#bf151b"/><ellipse cx="261.6" cy="24.5" rx="1.70" ry="1.70" fill="#bf151b"/><ellipse cx="262.1" cy="53.2" rx="1.27" ry="1.27" fill="#bf151b"/><ellipse cx="263.1" cy="60.2" rx="1.70" ry="1.70" fill="#bf151b"/><ellipse cx="262.1" cy="65.2" rx="1.70" ry="1.70" fill="#bf151b"/><ellipse cx="284.7" cy="17.2" rx="1.02" ry="1.02" fill="#bf151b"/><ellipse cx="68.1" cy="116.7" rx="1.27" ry="2.12" fill="#bf151b"/><ellipse cx="60.1" cy="88.5" rx="0.85" ry="0.85" fill="#bf151b"/><ellipse cx="68.6" cy="126.7" rx="0.85" ry="0.85" fill="#bf151b"/><ellipse cx="143.7" cy="97.0" rx="1.70" ry="1.70" fill="#bf151b"/><ellipse cx="164.8" cy="91.0" rx="1.27" ry="1.27" fill="#bf151b"/><ellipse cx="160.8" cy="99.1" rx="1.27" ry="2.12" fill="#bf151b"/><ellipse cx="134.6" cy="109.6" rx="1.27" ry="1.27" fill="#bf151b"/><ellipse cx="123.1" cy="114.7" rx="1.87" ry="1.87" fill="#bf151b"/><ellipse cx="134.1" cy="138.3" rx="1.70" ry="1.70" fill="#bf151b"/><ellipse cx="174.0" cy="99.0" rx="0.85" ry="0.85" fill="#bf151b"/><ellipse cx="185.0" cy="84.0" rx="1.27" ry="1.27" fill="#bf151b"/><ellipse cx="189.1" cy="95.0" rx="1.27" ry="1.27" fill="#bf151b"/><ellipse cx="179.5" cy="89.0" rx="1.27" ry="1.27" fill="#bf151b"/><ellipse cx="227.8" cy="86.0" rx="1.70" ry="1.70" fill="#bf151b"/><ellipse cx="222.2" cy="93.0" rx="1.27" ry="1.27" fill="#bf151b"/><ellipse cx="220.2" cy="82.0" rx="0.85" ry="0.85" fill="#bf151b"/><ellipse cx="264.1" cy="80.5" rx="0.85" ry="0.85" fill="#bf151b"/><ellipse cx="285.7" cy="123.2" rx="0.59" ry="0.59" fill="#bf151b"/><ellipse cx="49.5" cy="176.7" rx="1.70" ry="1.70" fill="#bf151b"/><ellipse cx="79.2" cy="183.2" rx="1.27" ry="2.12" fill="#bf151b"/><ellipse cx="65.1" cy="186.2" rx="1.53" ry="2.12" fill="#bf151b"/><ellipse cx="104.8" cy="160.1" rx="1.70" ry="2.55" fill="#bf151b"/><ellipse cx="138.1" cy="151.0" rx="1.27" ry="1.27" fill="#bf151b"/><ellipse cx="141.2" cy="165.1" rx="1.87" ry="1.87" fill="#bf151b"/><ellipse cx="152.7" cy="149.5" rx="1.70" ry="1.70" fill="#bf151b"/><ellipse cx="136.1" cy="181.2" rx="1.70" ry="1.70" fill="#bf151b"/><ellipse cx="117.5" cy="168.1" rx="1.70" ry="2.12" fill="#bf151b"/><ellipse cx="138.1" cy="144.5" rx="0.85" ry="0.85" fill="#bf151b"/><ellipse cx="184.1" cy="145.0" rx="1.70" ry="1.70" fill="#bf151b"/><ellipse cx="208.7" cy="161.1" rx="2.12" ry="1.27" fill="#bf151b"/><ellipse cx="191.6" cy="153.5" rx="1.27" ry="1.27" fill="#bf151b"/><ellipse cx="180.5" cy="179.2" rx="1.53" ry="1.53" fill="#bf151b"/><ellipse cx="203.7" cy="184.2" rx="1.70" ry="1.70" fill="#bf151b"/><ellipse cx="280.2" cy="146.0" rx="1.02" ry="1.02" fill="#bf151b"/><ellipse cx="272.7" cy="162.6" rx="2.12" ry="2.12" fill="#bf151b"/><ellipse cx="270.2" cy="170.1" rx="0.85" ry="0.85" fill="#bf151b"/><ellipse cx="247.0" cy="200.8" rx="1.27" ry="1.27" fill="#bf151b"/><ellipse cx="46.5" cy="211.5" rx="1.27" ry="1.27" fill="#bf151b"/><ellipse cx="54.0" cy="220.6" rx="1.27" ry="2.12" fill="#bf151b"/><ellipse cx="82.2" cy="216.5" rx="0.85" ry="0.85" fill="#bf151b"/><ellipse cx="65.1" cy="232.1" rx="1.70" ry="1.70" fill="#bf151b"/><ellipse cx="93.7" cy="229.1" rx="1.53" ry="2.55" fill="#bf151b"/><ellipse cx="97.3" cy="226.6" rx="1.27" ry="1.27" fill="#bf151b"/><ellipse cx="102.3" cy="217.5" rx="1.53" ry="1.53" fill="#bf151b"/><ellipse cx="102.3" cy="234.1" rx="2.12" ry="1.53" fill="#bf151b"/><ellipse cx="52.5" cy="260.3" rx="1.27" ry="1.27" fill="#bf151b"/><ellipse cx="130.6" cy="215.5" rx="1.53" ry="2.12" fill="#bf151b"/><ellipse cx="124.6" cy="243.7" rx="1.70" ry="2.55" fill="#bf151b"/><ellipse cx="150.7" cy="244.7" rx="1.27" ry="2.98" fill="#bf151b"/><ellipse cx="174.0" cy="226.6" rx="1.27" ry="1.27" fill="#bf151b"/><ellipse cx="244.0" cy="219.1" rx="1.27" ry="2.12" fill="#bf151b"/><ellipse cx="250.1" cy="231.1" rx="1.27" ry="1.27" fill="#bf151b"/><ellipse cx="239.5" cy="255.7" rx="1.02" ry="1.02" fill="#bf151b"/><ellipse cx="90.2" cy="19.0" rx="1.52" ry="1.52" fill="#6d010e"/><ellipse cx="80.7" cy="38.6" rx="1.14" ry="2.28" fill="#6d010e"/><ellipse cx="49.0" cy="41.0" rx="0.91" ry="2.28" fill="#6d010e"/><ellipse cx="94.7" cy="56.2" rx="1.90" ry="2.66" fill="#6d010e"/><ellipse cx="83.7" cy="73.3" rx="1.90" ry="1.90" fill="#6d010e"/><ellipse cx="104.3" cy="72.3" rx="1.90" ry="1.90" fill="#6d010e"/><ellipse cx="156.7" cy="24.5" rx="1.90" ry="2.28" fill="#6d010e"/><ellipse cx="164.8" cy="31.0" rx="1.37" ry="3.04" fill="#6d010e"/><ellipse cx="164.3" cy="40.0" rx="1.14" ry="1.14" fill="#6d010e"/><ellipse cx="142.2" cy="51.7" rx="1.52" ry="2.66" fill="#6d010e"/><ellipse cx="177.0" cy="22.0" rx="1.67" ry="1.67" fill="#6d010e"/><ellipse cx="207.2" cy="33.6" rx="1.52" ry="1.52" fill="#6d010e"/><ellipse cx="182.5" cy="49.7" rx="1.37" ry="1.37" fill="#6d010e"/><ellipse cx="232.8" cy="64.2" rx="2.28" ry="2.28" fill="#6d010e"/><ellipse cx="223.2" cy="79.3" rx="1.14" ry="1.14" fill="#6d010e"/><ellipse cx="261.1" cy="29.6" rx="0.91" ry="1.52" fill="#6d010e"/><ellipse cx="290.3" cy="77.8" rx="1.14" ry="1.14" fill="#6d010e"/><ellipse cx="60.1" cy="111.2" rx="2.66" ry="3.80" fill="#6d010e"/><ellipse cx="94.2" cy="91.6" rx="2.28" ry="1.90" fill="#6d010e"/><ellipse cx="135.1" cy="96.1" rx="4.18" ry="4.94" fill="#6d010e"/><ellipse cx="135.1" cy="88.0" rx="2.28" ry="2.28" fill="#6d010e"/><ellipse cx="142.2" cy="93.0" rx="2.66" ry="2.28" fill="#6d010e"/><ellipse cx="141.2" cy="83.0" rx="0.91" ry="0.91" fill="#6d010e"/><ellipse cx="160.8" cy="86.5" rx="1.52" ry="1.90" fill="#6d010e"/><ellipse cx="171.8" cy="97.6" rx="1.52" ry="2.66" fill="#6d010e"/><ellipse cx="142.2" cy="122.2" rx="0.99" ry="2.66" fill="#6d010e"/><ellipse cx="137.1" cy="133.3" rx="2.66" ry="3.42" fill="#6d010e"/><ellipse cx="141.2" cy="135.8" rx="1.52" ry="1.52" fill="#6d010e"/><ellipse cx="160.3" cy="132.8" rx="0.91" ry="0.91" fill="#6d010e"/><ellipse cx="185.6" cy="89.0" rx="2.28" ry="2.66" fill="#6d010e"/><ellipse cx="206.7" cy="93.0" rx="1.90" ry="2.28" fill="#6d010e"/><ellipse cx="205.2" cy="100.1" rx="1.52" ry="1.90" fill="#6d010e"/><ellipse cx="193.6" cy="110.2" rx="1.52" ry="1.90" fill="#6d010e"/><ellipse cx="181.0" cy="115.2" rx="1.52" ry="2.28" fill="#6d010e"/><ellipse cx="205.2" cy="122.7" rx="0.99" ry="1.90" fill="#6d010e"/><ellipse cx="208.2" cy="125.2" rx="1.14" ry="1.14" fill="#6d010e"/><ellipse cx="205.7" cy="132.3" rx="1.90" ry="1.90" fill="#6d010e"/><ellipse cx="185.6" cy="142.3" rx="1.52" ry="1.52" fill="#6d010e"/><ellipse cx="222.7" cy="84.0" rx="1.90" ry="3.04" fill="#6d010e"/><ellipse cx="223.8" cy="132.8" rx="0.91" ry="2.28" fill="#6d010e"/><ellipse cx="245.0" cy="96.1" rx="1.37" ry="1.90" fill="#6d010e"/><ellipse cx="270.2" cy="109.1" rx="1.67" ry="2.66" fill="#6d010e"/><ellipse cx="289.8" cy="80.5" rx="0.76" ry="0.76" fill="#6d010e"/><ellipse cx="47.0" cy="193.7" rx="1.90" ry="2.66" fill="#6d010e"/><ellipse cx="82.2" cy="178.2" rx="1.67" ry="1.67" fill="#6d010e"/><ellipse cx="93.2" cy="182.2" rx="1.14" ry="3.04" fill="#6d010e"/><ellipse cx="79.7" cy="198.8" rx="1.37" ry="2.66" fill="#6d010e"/><ellipse cx="135.6" cy="155.0" rx="2.66" ry="2.66" fill="#6d010e"/><ellipse cx="135.1" cy="172.1" rx="1.14" ry="2.28" fill="#6d010e"/><ellipse cx="136.1" cy="192.2" rx="4.56" ry="4.56" fill="#6d010e"/><ellipse cx="132.1" cy="195.3" rx="2.28" ry="2.28" fill="#6d010e"/><ellipse cx="138.1" cy="186.2" rx="2.28" ry="2.28" fill="#6d010e"/><ellipse cx="144.2" cy="196.3" rx="1.90" ry="3.04" fill="#6d010e"/><ellipse cx="152.2" cy="193.2" rx="1.52" ry="2.28" fill="#6d010e"/><ellipse cx="163.8" cy="195.3" rx="1.90" ry="3.42" fill="#6d010e"/><ellipse cx="171.8" cy="191.2" rx="1.14" ry="3.04" fill="#6d010e"/><ellipse cx="205.2" cy="145.5" rx="1.67" ry="1.67" fill="#6d010e"/><ellipse cx="201.1" cy="152.0" rx="1.52" ry="1.90" fill="#6d010e"/><ellipse cx="199.6" cy="159.1" rx="1.52" ry="1.52" fill="#6d010e"/><ellipse cx="207.7" cy="155.0" rx="0.91" ry="0.91" fill="#6d010e"/><ellipse cx="206.2" cy="167.6" rx="1.90" ry="1.52" fill="#6d010e"/><ellipse cx="175.0" cy="190.0" rx="2.28" ry="3.80" fill="#6d010e"/><ellipse cx="182.5" cy="196.8" rx="2.28" ry="1.90" fill="#6d010e"/><ellipse cx="201.6" cy="192.2" rx="2.28" ry="3.80" fill="#6d010e"/><ellipse cx="196.6" cy="199.3" rx="1.14" ry="2.28" fill="#6d010e"/><ellipse cx="202.6" cy="200.8" rx="1.52" ry="1.52" fill="#6d010e"/><ellipse cx="173.5" cy="204.3" rx="1.14" ry="1.14" fill="#6d010e"/><ellipse cx="278.2" cy="150.5" rx="1.90" ry="1.90" fill="#6d010e"/><ellipse cx="258.6" cy="168.1" rx="1.90" ry="2.28" fill="#6d010e"/><ellipse cx="260.6" cy="192.7" rx="1.90" ry="2.66" fill="#6d010e"/><ellipse cx="242.0" cy="198.3" rx="1.14" ry="1.14" fill="#6d010e"/><ellipse cx="295.3" cy="195.3" rx="0.76" ry="2.28" fill="#6d010e"/><ellipse cx="74.6" cy="265.3" rx="1.52" ry="1.52" fill="#6d010e"/><ellipse cx="97.8" cy="264.8" rx="1.52" ry="2.28" fill="#6d010e"/><ellipse cx="163.3" cy="221.6" rx="2.28" ry="2.66" fill="#6d010e"/><ellipse cx="149.7" cy="230.6" rx="1.90" ry="2.28" fill="#6d010e"/><ellipse cx="119.0" cy="236.1" rx="2.66" ry="2.66" fill="#6d010e"/><ellipse cx="136.1" cy="259.3" rx="2.66" ry="2.66" fill="#6d010e"/><ellipse cx="154.7" cy="261.3" rx="2.28" ry="3.04" fill="#6d010e"/><ellipse cx="125.1" cy="263.8" rx="1.52" ry="2.28" fill="#6d010e"/><ellipse cx="179.0" cy="215.5" rx="1.52" ry="2.28" fill="#6d010e"/><ellipse cx="177.0" cy="226.1" rx="2.28" ry="2.66" fill="#6d010e"/><ellipse cx="187.6" cy="237.6" rx="1.37" ry="2.28" fill="#6d010e"/><ellipse cx="186.1" cy="252.2" rx="1.14" ry="1.52" fill="#6d010e"/><ellipse cx="215.2" cy="246.7" rx="2.28" ry="2.28" fill="#6d010e"/><ellipse cx="216.2" cy="262.3" rx="1.52" ry="1.52" fill="#6d010e"/><ellipse cx="277.7" cy="259.8" rx="1.67" ry="1.67" fill="#6d010e"/></g></g>
<rect x="129.6" y="80.5" width="82.70000000000002" height="126.9" fill="none" stroke="#111" stroke-width="1.2" stroke-dasharray="2.3 1.2"/>
<rect x="45.0" y="16.6" width="251.5" height="254.70000000000002" fill="none" stroke="#a6a6a6" stroke-width="1"/>
<text x="43.5" y="10.3" font-size="13.5" fill="#1a1a1a" class="t" textLength="47" lengthAdjust="spacingAndGlyphs">(a) LCZ1</text>
<line x1="89.4" y1="271.3" x2="89.4" y2="273.8" stroke="#555" stroke-width="0.8"/>
<text x="89.4" y="284" font-size="12" fill="#262626" text-anchor="middle" class="b">2000</text>
<line x1="134.2" y1="271.3" x2="134.2" y2="273.8" stroke="#555" stroke-width="0.8"/>
<text x="134.2" y="284" font-size="12" fill="#262626" text-anchor="middle" class="b">4000</text>
<line x1="179.0" y1="271.3" x2="179.0" y2="273.8" stroke="#555" stroke-width="0.8"/>
<text x="179.0" y="284" font-size="12" fill="#262626" text-anchor="middle" class="b">6000</text>
<line x1="223.8" y1="271.3" x2="223.8" y2="273.8" stroke="#555" stroke-width="0.8"/>
<text x="223.8" y="284" font-size="12" fill="#262626" text-anchor="middle" class="b">8000</text>
<line x1="268.6" y1="271.3" x2="268.6" y2="273.8" stroke="#555" stroke-width="0.8"/>
<text x="268.6" y="284" font-size="12" fill="#262626" text-anchor="middle" class="b">10000</text>
<line x1="42.5" y1="237.4" x2="45.0" y2="237.4" stroke="#555" stroke-width="0.8"/>
<text x="41.2" y="241.8" font-size="12" fill="#262626" text-anchor="end" class="b">1000</text>
<line x1="42.5" y1="203.2" x2="45.0" y2="203.2" stroke="#555" stroke-width="0.8"/>
<text x="41.2" y="207.6" font-size="12" fill="#262626" text-anchor="end" class="b">2000</text>
<line x1="42.5" y1="169.1" x2="45.0" y2="169.1" stroke="#555" stroke-width="0.8"/>
<text x="41.2" y="173.5" font-size="12" fill="#262626" text-anchor="end" class="b">3000</text>
<line x1="42.5" y1="134.9" x2="45.0" y2="134.9" stroke="#555" stroke-width="0.8"/>
<text x="41.2" y="139.3" font-size="12" fill="#262626" text-anchor="end" class="b">4000</text>
<line x1="42.5" y1="100.7" x2="45.0" y2="100.7" stroke="#555" stroke-width="0.8"/>
<text x="41.2" y="105.1" font-size="12" fill="#262626" text-anchor="end" class="b">5000</text>
<line x1="42.5" y1="66.5" x2="45.0" y2="66.5" stroke="#555" stroke-width="0.8"/>
<text x="41.2" y="70.9" font-size="12" fill="#262626" text-anchor="end" class="b">6000</text>
<line x1="42.5" y1="32.4" x2="45.0" y2="32.4" stroke="#555" stroke-width="0.8"/>
<text x="41.2" y="36.8" font-size="12" fill="#262626" text-anchor="end" class="b">7000</text>
<text x="171.2" y="296" font-size="12" fill="#262626" text-anchor="middle" font-style="italic" class="b">x (m)</text>
<rect x="347.2" y="16.6" width="251.40000000000003" height="254.70000000000002" fill="#fdf3ee"/>
<rect x="347.2" y="16.6" width="251.40000000000003" height="254.70000000000002" fill="#fff" filter="url(#spk)" opacity="0.55"/>
<g clip-path="url(#rectB)"><rect x="429" y="77" width="88" height="134" fill="#fff" filter="url(#frg)"/><rect x="429" y="77" width="88" height="134" fill="#fff" filter="url(#frg2)"/></g>
<g clip-path="url(#cbb)"><g filter="url(#sb)"><ellipse cx="437.1" cy="48.7" rx="1.15" ry="1.15" fill="#fdd3c1"/><ellipse cx="590.8" cy="40.1" rx="1.65" ry="1.65" fill="#fdd3c1"/><ellipse cx="551.1" cy="22.0" rx="1.15" ry="1.15" fill="#fdd3c1"/><ellipse cx="405.8" cy="109.1" rx="1.15" ry="1.15" fill="#fdd3c1"/><ellipse cx="527.3" cy="111.2" rx="1.15" ry="1.15" fill="#fdd3c1"/><ellipse cx="570.2" cy="99.6" rx="1.65" ry="1.65" fill="#fdd3c1"/><ellipse cx="372.1" cy="157.1" rx="1.35" ry="1.35" fill="#fdd3c1"/><ellipse cx="532.3" cy="190.3" rx="1.15" ry="1.15" fill="#fdd3c1"/><ellipse cx="364.1" cy="253.6" rx="1.15" ry="1.15" fill="#fdd3c1"/><ellipse cx="394.0" cy="210.4" rx="1.15" ry="1.15" fill="#fdd3c1"/><ellipse cx="417.8" cy="209.0" rx="1.15" ry="1.15" fill="#fdd3c1"/><ellipse cx="595.6" cy="210.2" rx="1.65" ry="1.65" fill="#fdd3c1"/><ellipse cx="560.5" cy="213.6" rx="1.15" ry="1.15" fill="#fdd3c1"/><ellipse cx="392.2" cy="22.5" rx="1.15" ry="1.15" fill="#fcac8f"/><ellipse cx="399.3" cy="29.6" rx="1.15" ry="1.15" fill="#fcac8f"/><ellipse cx="367.6" cy="42.1" rx="1.15" ry="1.15" fill="#fcac8f"/><ellipse cx="368.6" cy="27.0" rx="0.95" ry="0.95" fill="#fcac8f"/><ellipse cx="517.7" cy="45.6" rx="1.15" ry="1.15" fill="#fcac8f"/><ellipse cx="516.2" cy="72.3" rx="1.65" ry="1.65" fill="#fcac8f"/><ellipse cx="537.3" cy="49.7" rx="1.15" ry="1.15" fill="#fcac8f"/><ellipse cx="543.0" cy="26.0" rx="1.15" ry="1.15" fill="#fcac8f"/><ellipse cx="566.6" cy="42.6" rx="1.15" ry="1.15" fill="#fcac8f"/><ellipse cx="551.6" cy="58.2" rx="1.15" ry="1.15" fill="#fcac8f"/><ellipse cx="353.5" cy="104.1" rx="1.15" ry="1.15" fill="#fcac8f"/><ellipse cx="362.1" cy="127.2" rx="1.15" ry="1.15" fill="#fcac8f"/><ellipse cx="409.8" cy="88.0" rx="1.15" ry="1.15" fill="#fcac8f"/><ellipse cx="452.2" cy="88.0" rx="1.15" ry="1.15" fill="#fcac8f"/><ellipse cx="517.2" cy="130.3" rx="1.65" ry="1.65" fill="#fcac8f"/><ellipse cx="494.1" cy="122.2" rx="1.15" ry="1.15" fill="#fcac8f"/><ellipse cx="519.7" cy="134.3" rx="1.15" ry="1.15" fill="#fcac8f"/><ellipse cx="579.2" cy="99.1" rx="1.65" ry="1.65" fill="#fcac8f"/><ellipse cx="558.1" cy="79.0" rx="1.65" ry="1.65" fill="#fcac8f"/><ellipse cx="590.3" cy="86.0" rx="1.65" ry="1.65" fill="#fcac8f"/><ellipse cx="571.2" cy="138.3" rx="1.65" ry="1.65" fill="#fcac8f"/><ellipse cx="566.1" cy="135.8" rx="1.15" ry="1.15" fill="#fcac8f"/><ellipse cx="382.7" cy="165.1" rx="1.15" ry="1.15" fill="#fcac8f"/><ellipse cx="349.5" cy="189.2" rx="1.65" ry="1.65" fill="#fcac8f"/><ellipse cx="355.0" cy="194.8" rx="1.15" ry="1.15" fill="#fcac8f"/><ellipse cx="408.3" cy="152.0" rx="1.15" ry="1.15" fill="#fcac8f"/><ellipse cx="360.1" cy="165.1" rx="1.35" ry="1.35" fill="#fcac8f"/><ellipse cx="451.2" cy="177.2" rx="1.35" ry="1.35" fill="#fcac8f"/><ellipse cx="529.3" cy="147.5" rx="1.15" ry="1.15" fill="#fcac8f"/><ellipse cx="576.7" cy="199.3" rx="1.65" ry="1.65" fill="#fcac8f"/><ellipse cx="579.2" cy="169.1" rx="1.15" ry="1.15" fill="#fcac8f"/><ellipse cx="583.7" cy="161.1" rx="1.15" ry="1.15" fill="#fcac8f"/><ellipse cx="581.2" cy="189.7" rx="1.15" ry="1.15" fill="#fcac8f"/><ellipse cx="357.1" cy="247.8" rx="1.15" ry="1.15" fill="#fcac8f"/><ellipse cx="355.0" cy="230.7" rx="1.15" ry="1.15" fill="#fcac8f"/><ellipse cx="407.8" cy="253.6" rx="1.15" ry="1.15" fill="#fcac8f"/><ellipse cx="424.6" cy="250.9" rx="1.65" ry="1.65" fill="#fcac8f"/><ellipse cx="466.4" cy="243.0" rx="1.15" ry="1.15" fill="#fcac8f"/><ellipse cx="437.0" cy="258.8" rx="1.35" ry="1.35" fill="#fcac8f"/><ellipse cx="472.7" cy="231.1" rx="1.15" ry="1.15" fill="#fcac8f"/><ellipse cx="422.3" cy="256.6" rx="1.65" ry="1.65" fill="#fcac8f"/><ellipse cx="520.8" cy="223.8" rx="1.15" ry="1.15" fill="#fcac8f"/><ellipse cx="480.1" cy="254.9" rx="1.35" ry="1.35" fill="#fcac8f"/><ellipse cx="523.6" cy="243.6" rx="1.15" ry="1.15" fill="#fcac8f"/><ellipse cx="528.2" cy="243.6" rx="1.15" ry="1.15" fill="#fcac8f"/><ellipse cx="531.6" cy="255.4" rx="1.15" ry="1.15" fill="#fcac8f"/><ellipse cx="519.7" cy="267.9" rx="1.15" ry="1.15" fill="#fcac8f"/><ellipse cx="558.8" cy="237.9" rx="1.15" ry="1.15" fill="#fcac8f"/><ellipse cx="554.3" cy="242.4" rx="1.15" ry="1.15" fill="#fcac8f"/><ellipse cx="552.6" cy="260.5" rx="1.35" ry="1.35" fill="#fcac8f"/><ellipse cx="569.5" cy="249.8" rx="1.15" ry="1.15" fill="#fcac8f"/><ellipse cx="587.6" cy="253.2" rx="1.15" ry="1.15" fill="#fcac8f"/><ellipse cx="578.0" cy="213.6" rx="1.35" ry="1.35" fill="#fcac8f"/><ellipse cx="576.9" cy="222.1" rx="1.15" ry="1.15" fill="#fcac8f"/><ellipse cx="565.0" cy="257.1" rx="1.65" ry="1.65" fill="#fcac8f"/><ellipse cx="576.9" cy="201.1" rx="1.65" ry="1.65" fill="#fcac8f"/><ellipse cx="562.8" cy="202.3" rx="1.15" ry="1.15" fill="#fcac8f"/><ellipse cx="371.6" cy="19.5" rx="1.65" ry="1.65" fill="#f5634a"/><ellipse cx="359.6" cy="23.5" rx="1.15" ry="1.15" fill="#f5634a"/><ellipse cx="399.3" cy="71.8" rx="1.65" ry="1.65" fill="#f5634a"/><ellipse cx="458.2" cy="24.5" rx="1.15" ry="1.15" fill="#f5634a"/><ellipse cx="440.6" cy="23.0" rx="1.15" ry="1.15" fill="#f5634a"/><ellipse cx="429.1" cy="22.0" rx="1.15" ry="1.15" fill="#f5634a"/><ellipse cx="447.7" cy="76.3" rx="1.15" ry="1.15" fill="#f5634a"/><ellipse cx="448.7" cy="71.8" rx="1.15" ry="1.15" fill="#f5634a"/><ellipse cx="506.7" cy="21.5" rx="1.15" ry="1.15" fill="#f5634a"/><ellipse cx="510.2" cy="42.1" rx="1.65" ry="1.65" fill="#f5634a"/><ellipse cx="522.7" cy="52.2" rx="0.95" ry="0.95" fill="#f5634a"/><ellipse cx="522.2" cy="32.0" rx="0.95" ry="0.95" fill="#f5634a"/><ellipse cx="577.2" cy="62.2" rx="1.65" ry="1.65" fill="#f5634a"/><ellipse cx="541.5" cy="76.8" rx="1.65" ry="1.65" fill="#f5634a"/><ellipse cx="352.0" cy="98.6" rx="1.15" ry="1.15" fill="#f5634a"/><ellipse cx="449.7" cy="127.8" rx="1.65" ry="1.65" fill="#f5634a"/><ellipse cx="458.2" cy="95.1" rx="1.15" ry="1.15" fill="#f5634a"/><ellipse cx="412.2" cy="89.0" rx="1.15" ry="1.15" fill="#f5634a"/><ellipse cx="439.1" cy="97.1" rx="1.65" ry="1.65" fill="#f5634a"/><ellipse cx="439.1" cy="134.3" rx="1.65" ry="1.65" fill="#f5634a"/><ellipse cx="479.5" cy="100.1" rx="1.65" ry="1.65" fill="#f5634a"/><ellipse cx="556.6" cy="136.3" rx="1.35" ry="1.35" fill="#f5634a"/><ellipse cx="356.5" cy="170.7" rx="1.65" ry="1.65" fill="#f5634a"/><ellipse cx="404.8" cy="144.0" rx="1.65" ry="1.65" fill="#f5634a"/><ellipse cx="356.0" cy="147.5" rx="1.35" ry="1.35" fill="#f5634a"/><ellipse cx="355.5" cy="158.6" rx="1.15" ry="1.15" fill="#f5634a"/><ellipse cx="375.6" cy="167.6" rx="1.35" ry="1.35" fill="#f5634a"/><ellipse cx="385.2" cy="168.6" rx="1.35" ry="1.35" fill="#f5634a"/><ellipse cx="410.3" cy="181.2" rx="1.35" ry="1.35" fill="#f5634a"/><ellipse cx="367.6" cy="190.8" rx="1.35" ry="1.35" fill="#f5634a"/><ellipse cx="394.7" cy="201.3" rx="1.15" ry="1.15" fill="#f5634a"/><ellipse cx="348.5" cy="141.0" rx="1.15" ry="1.15" fill="#f5634a"/><ellipse cx="436.1" cy="160.1" rx="1.65" ry="1.65" fill="#f5634a"/><ellipse cx="418.5" cy="179.2" rx="1.35" ry="1.35" fill="#f5634a"/><ellipse cx="411.5" cy="181.2" rx="1.15" ry="1.15" fill="#f5634a"/><ellipse cx="442.2" cy="169.1" rx="1.65" ry="1.65" fill="#f5634a"/><ellipse cx="484.0" cy="143.0" rx="1.65" ry="1.65" fill="#f5634a"/><ellipse cx="481.0" cy="194.3" rx="1.65" ry="1.65" fill="#f5634a"/><ellipse cx="509.2" cy="195.8" rx="1.65" ry="1.65" fill="#f5634a"/><ellipse cx="526.8" cy="151.0" rx="1.15" ry="1.15" fill="#f5634a"/><ellipse cx="594.3" cy="189.2" rx="1.65" ry="1.65" fill="#f5634a"/><ellipse cx="564.1" cy="159.1" rx="0.95" ry="0.95" fill="#f5634a"/><ellipse cx="355.0" cy="245.1" rx="1.65" ry="1.65" fill="#f5634a"/><ellipse cx="388.1" cy="256.3" rx="1.35" ry="1.35" fill="#f5634a"/><ellipse cx="469.8" cy="219.2" rx="1.35" ry="1.35" fill="#f5634a"/><ellipse cx="424.0" cy="219.2" rx="1.65" ry="1.65" fill="#f5634a"/><ellipse cx="445.5" cy="247.5" rx="1.65" ry="1.65" fill="#f5634a"/><ellipse cx="469.3" cy="260.0" rx="1.65" ry="1.65" fill="#f5634a"/><ellipse cx="472.0" cy="250.9" rx="1.15" ry="1.15" fill="#f5634a"/><ellipse cx="485.7" cy="215.3" rx="1.65" ry="1.65" fill="#f5634a"/><ellipse cx="524.2" cy="206.8" rx="1.65" ry="1.65" fill="#f5634a"/><ellipse cx="525.9" cy="212.4" rx="1.65" ry="1.65" fill="#f5634a"/><ellipse cx="488.0" cy="238.5" rx="1.65" ry="1.65" fill="#f5634a"/><ellipse cx="524.8" cy="267.3" rx="1.65" ry="1.65" fill="#f5634a"/><ellipse cx="500.5" cy="269.6" rx="1.65" ry="1.65" fill="#f5634a"/><ellipse cx="546.4" cy="220.4" rx="1.65" ry="1.65" fill="#f5634a"/><ellipse cx="587.6" cy="258.8" rx="1.35" ry="1.35" fill="#f5634a"/><ellipse cx="592.2" cy="219.8" rx="1.35" ry="1.35" fill="#f5634a"/><ellipse cx="547.5" cy="269.6" rx="1.35" ry="1.35" fill="#f5634a"/></g><g filter="url(#bl2)"><ellipse cx="373.1" cy="36.1" rx="3.10" ry="4.10" fill="#fcc0a8"/><ellipse cx="360.6" cy="42.6" rx="3.60" ry="4.60" fill="#fcc0a8"/><ellipse cx="406.8" cy="30.6" rx="3.10" ry="4.60" fill="#fcc0a8"/><ellipse cx="405.3" cy="47.2" rx="3.60" ry="3.60" fill="#fcc0a8"/><ellipse cx="391.2" cy="60.2" rx="3.60" ry="4.60" fill="#fcc0a8"/><ellipse cx="388.7" cy="61.7" rx="2.60" ry="2.60" fill="#fcc0a8"/><ellipse cx="373.6" cy="68.8" rx="3.60" ry="4.60" fill="#fcc0a8"/><ellipse cx="348.5" cy="58.2" rx="2.60" ry="2.60" fill="#fcc0a8"/><ellipse cx="351.0" cy="74.8" rx="3.10" ry="3.10" fill="#fcc0a8"/><ellipse cx="408.3" cy="68.8" rx="2.60" ry="2.60" fill="#fcc0a8"/><ellipse cx="454.7" cy="23.5" rx="4.10" ry="4.60" fill="#fcc0a8"/><ellipse cx="424.6" cy="35.6" rx="2.90" ry="4.10" fill="#fcc0a8"/><ellipse cx="443.2" cy="27.0" rx="2.60" ry="2.60" fill="#fcc0a8"/><ellipse cx="466.3" cy="32.1" rx="3.10" ry="3.10" fill="#fcc0a8"/><ellipse cx="471.8" cy="46.2" rx="2.30" ry="3.10" fill="#fcc0a8"/><ellipse cx="472.8" cy="62.7" rx="3.10" ry="4.60" fill="#fcc0a8"/><ellipse cx="417.0" cy="77.8" rx="3.10" ry="3.10" fill="#fcc0a8"/><ellipse cx="444.2" cy="77.8" rx="3.10" ry="3.10" fill="#fcc0a8"/><ellipse cx="467.3" cy="77.8" rx="3.10" ry="3.10" fill="#fcc0a8"/><ellipse cx="507.7" cy="26.0" rx="4.10" ry="4.60" fill="#fcc0a8"/><ellipse cx="509.7" cy="38.6" rx="2.60" ry="2.60" fill="#fcc0a8"/><ellipse cx="526.8" cy="34.1" rx="3.10" ry="3.10" fill="#fcc0a8"/><ellipse cx="483.5" cy="23.0" rx="2.10" ry="2.10" fill="#fcc0a8"/><ellipse cx="529.3" cy="17.5" rx="2.60" ry="2.60" fill="#fcc0a8"/><ellipse cx="529.8" cy="65.2" rx="2.90" ry="2.90" fill="#fcc0a8"/><ellipse cx="475.5" cy="63.2" rx="2.60" ry="2.60" fill="#fcc0a8"/><ellipse cx="495.1" cy="73.3" rx="3.10" ry="5.10" fill="#fcc0a8"/><ellipse cx="500.1" cy="76.8" rx="3.60" ry="3.60" fill="#fcc0a8"/><ellipse cx="509.7" cy="77.8" rx="3.10" ry="3.10" fill="#fcc0a8"/><ellipse cx="524.2" cy="76.3" rx="3.10" ry="3.10" fill="#fcc0a8"/><ellipse cx="545.5" cy="21.5" rx="2.60" ry="4.10" fill="#fcc0a8"/><ellipse cx="559.6" cy="40.6" rx="2.30" ry="4.10" fill="#fcc0a8"/><ellipse cx="568.1" cy="50.2" rx="3.10" ry="3.10" fill="#fcc0a8"/><ellipse cx="595.8" cy="19.0" rx="1.90" ry="1.90" fill="#fcc0a8"/><ellipse cx="368.6" cy="101.6" rx="3.10" ry="4.10" fill="#fcc0a8"/><ellipse cx="379.7" cy="112.2" rx="2.90" ry="2.90" fill="#fcc0a8"/><ellipse cx="381.2" cy="118.2" rx="4.10" ry="4.10" fill="#fcc0a8"/><ellipse cx="403.8" cy="94.0" rx="2.90" ry="2.90" fill="#fcc0a8"/><ellipse cx="392.2" cy="128.2" rx="2.60" ry="3.60" fill="#fcc0a8"/><ellipse cx="348.0" cy="126.2" rx="2.30" ry="4.10" fill="#fcc0a8"/><ellipse cx="406.3" cy="133.3" rx="2.10" ry="2.10" fill="#fcc0a8"/><ellipse cx="417.0" cy="79.0" rx="2.60" ry="3.60" fill="#fcc0a8"/><ellipse cx="444.2" cy="81.0" rx="4.10" ry="4.10" fill="#fcc0a8"/><ellipse cx="444.2" cy="87.0" rx="3.60" ry="3.60" fill="#fcc0a8"/><ellipse cx="449.2" cy="83.0" rx="3.10" ry="3.10" fill="#fcc0a8"/><ellipse cx="432.6" cy="90.6" rx="4.60" ry="5.10" fill="#fcc0a8"/><ellipse cx="437.1" cy="90.1" rx="3.10" ry="3.10" fill="#fcc0a8"/><ellipse cx="431.1" cy="96.1" rx="3.10" ry="3.10" fill="#fcc0a8"/><ellipse cx="433.1" cy="107.2" rx="5.10" ry="7.10" fill="#fcc0a8"/><ellipse cx="429.1" cy="106.2" rx="2.60" ry="4.10" fill="#fcc0a8"/><ellipse cx="444.2" cy="107.2" rx="5.60" ry="6.60" fill="#fcc0a8"/><ellipse cx="449.2" cy="101.1" rx="3.60" ry="3.60" fill="#fcc0a8"/><ellipse cx="460.2" cy="109.2" rx="5.10" ry="5.10" fill="#fcc0a8"/><ellipse cx="457.7" cy="105.1" rx="3.10" ry="3.10" fill="#fcc0a8"/><ellipse cx="465.8" cy="85.0" rx="4.60" ry="6.10" fill="#fcc0a8"/><ellipse cx="468.3" cy="80.0" rx="3.10" ry="3.10" fill="#fcc0a8"/><ellipse cx="471.8" cy="99.1" rx="4.10" ry="6.10" fill="#fcc0a8"/><ellipse cx="469.3" cy="105.1" rx="2.60" ry="2.60" fill="#fcc0a8"/><ellipse cx="431.1" cy="125.2" rx="4.10" ry="6.10" fill="#fcc0a8"/><ellipse cx="435.6" cy="120.2" rx="2.60" ry="2.60" fill="#fcc0a8"/><ellipse cx="443.2" cy="127.3" rx="3.60" ry="4.10" fill="#fcc0a8"/><ellipse cx="446.7" cy="123.2" rx="3.10" ry="3.10" fill="#fcc0a8"/><ellipse cx="461.8" cy="123.2" rx="4.60" ry="6.10" fill="#fcc0a8"/><ellipse cx="464.3" cy="128.3" rx="3.60" ry="3.60" fill="#fcc0a8"/><ellipse cx="471.3" cy="125.2" rx="4.60" ry="6.10" fill="#fcc0a8"/><ellipse cx="431.1" cy="135.3" rx="3.10" ry="4.10" fill="#fcc0a8"/><ellipse cx="461.3" cy="138.3" rx="3.10" ry="3.10" fill="#fcc0a8"/><ellipse cx="487.1" cy="82.5" rx="3.60" ry="4.10" fill="#fcc0a8"/><ellipse cx="498.1" cy="78.5" rx="4.10" ry="4.10" fill="#fcc0a8"/><ellipse cx="496.1" cy="77.0" rx="3.10" ry="3.10" fill="#fcc0a8"/><ellipse cx="509.2" cy="78.5" rx="4.10" ry="4.10" fill="#fcc0a8"/><ellipse cx="503.1" cy="86.0" rx="3.60" ry="4.10" fill="#fcc0a8"/><ellipse cx="508.7" cy="88.0" rx="4.10" ry="6.10" fill="#fcc0a8"/><ellipse cx="514.2" cy="84.0" rx="3.60" ry="3.60" fill="#fcc0a8"/><ellipse cx="508.2" cy="95.6" rx="4.10" ry="4.10" fill="#fcc0a8"/><ellipse cx="512.2" cy="96.1" rx="3.10" ry="3.10" fill="#fcc0a8"/><ellipse cx="496.6" cy="104.1" rx="5.60" ry="8.10" fill="#fcc0a8"/><ellipse cx="482.0" cy="107.2" rx="6.10" ry="6.10" fill="#fcc0a8"/><ellipse cx="501.1" cy="103.1" rx="2.60" ry="2.60" fill="#fcc0a8"/><ellipse cx="487.1" cy="110.2" rx="3.10" ry="3.10" fill="#fcc0a8"/><ellipse cx="513.2" cy="106.2" rx="4.10" ry="3.10" fill="#fcc0a8"/><ellipse cx="518.2" cy="106.7" rx="3.10" ry="3.10" fill="#fcc0a8"/><ellipse cx="487.1" cy="124.2" rx="5.10" ry="7.10" fill="#fcc0a8"/><ellipse cx="512.2" cy="128.3" rx="2.60" ry="4.60" fill="#fcc0a8"/><ellipse cx="503.1" cy="125.7" rx="2.60" ry="2.60" fill="#fcc0a8"/><ellipse cx="475.5" cy="131.3" rx="2.60" ry="2.60" fill="#fcc0a8"/><ellipse cx="491.1" cy="138.8" rx="3.10" ry="3.10" fill="#fcc0a8"/><ellipse cx="496.6" cy="138.8" rx="3.10" ry="3.10" fill="#fcc0a8"/><ellipse cx="524.2" cy="78.0" rx="3.10" ry="4.60" fill="#fcc0a8"/><ellipse cx="582.2" cy="90.6" rx="3.10" ry="4.60" fill="#fcc0a8"/><ellipse cx="594.3" cy="104.6" rx="3.60" ry="4.60" fill="#fcc0a8"/><ellipse cx="578.7" cy="112.2" rx="4.10" ry="4.10" fill="#fcc0a8"/><ellipse cx="562.6" cy="118.2" rx="2.30" ry="3.60" fill="#fcc0a8"/><ellipse cx="573.7" cy="125.2" rx="2.30" ry="3.60" fill="#fcc0a8"/><ellipse cx="596.8" cy="125.7" rx="2.60" ry="4.60" fill="#fcc0a8"/><ellipse cx="359.1" cy="173.7" rx="3.10" ry="4.60" fill="#fcc0a8"/><ellipse cx="378.7" cy="164.1" rx="2.60" ry="2.60" fill="#fcc0a8"/><ellipse cx="390.2" cy="193.3" rx="4.10" ry="5.10" fill="#fcc0a8"/><ellipse cx="370.6" cy="200.3" rx="3.60" ry="3.10" fill="#fcc0a8"/><ellipse cx="347.5" cy="162.6" rx="2.10" ry="2.10" fill="#fcc0a8"/><ellipse cx="445.7" cy="146.0" rx="4.60" ry="5.60" fill="#fcc0a8"/><ellipse cx="460.2" cy="141.0" rx="4.10" ry="3.10" fill="#fcc0a8"/><ellipse cx="468.3" cy="146.0" rx="4.60" ry="6.10" fill="#fcc0a8"/><ellipse cx="472.3" cy="150.0" rx="3.10" ry="3.10" fill="#fcc0a8"/><ellipse cx="430.1" cy="147.5" rx="3.10" ry="3.10" fill="#fcc0a8"/><ellipse cx="419.5" cy="154.1" rx="2.90" ry="2.90" fill="#fcc0a8"/><ellipse cx="445.2" cy="161.6" rx="5.10" ry="6.10" fill="#fcc0a8"/><ellipse cx="449.2" cy="164.6" rx="3.10" ry="3.10" fill="#fcc0a8"/><ellipse cx="460.2" cy="164.1" rx="5.10" ry="5.10" fill="#fcc0a8"/><ellipse cx="466.8" cy="165.6" rx="3.10" ry="3.10" fill="#fcc0a8"/><ellipse cx="472.8" cy="164.1" rx="4.10" ry="6.60" fill="#fcc0a8"/><ellipse cx="431.1" cy="160.1" rx="3.10" ry="3.10" fill="#fcc0a8"/><ellipse cx="433.6" cy="167.1" rx="3.60" ry="3.60" fill="#fcc0a8"/><ellipse cx="445.2" cy="181.2" rx="4.10" ry="4.60" fill="#fcc0a8"/><ellipse cx="434.6" cy="179.7" rx="3.60" ry="4.10" fill="#fcc0a8"/><ellipse cx="460.2" cy="186.2" rx="5.60" ry="5.10" fill="#fcc0a8"/><ellipse cx="471.8" cy="184.2" rx="4.60" ry="6.10" fill="#fcc0a8"/><ellipse cx="469.3" cy="192.3" rx="3.10" ry="3.10" fill="#fcc0a8"/><ellipse cx="438.1" cy="196.3" rx="6.10" ry="6.10" fill="#fcc0a8"/><ellipse cx="445.2" cy="199.3" rx="4.10" ry="4.10" fill="#fcc0a8"/><ellipse cx="449.2" cy="196.3" rx="3.10" ry="3.10" fill="#fcc0a8"/><ellipse cx="459.2" cy="199.3" rx="5.10" ry="5.60" fill="#fcc0a8"/><ellipse cx="455.2" cy="144.0" rx="2.60" ry="2.60" fill="#fcc0a8"/><ellipse cx="490.1" cy="142.0" rx="3.10" ry="3.60" fill="#fcc0a8"/><ellipse cx="499.6" cy="145.5" rx="4.60" ry="5.60" fill="#fcc0a8"/><ellipse cx="496.1" cy="143.0" rx="3.10" ry="3.10" fill="#fcc0a8"/><ellipse cx="510.7" cy="143.0" rx="3.10" ry="4.10" fill="#fcc0a8"/><ellipse cx="507.2" cy="148.0" rx="2.90" ry="2.90" fill="#fcc0a8"/><ellipse cx="509.2" cy="157.1" rx="3.60" ry="5.10" fill="#fcc0a8"/><ellipse cx="505.2" cy="159.1" rx="2.60" ry="2.60" fill="#fcc0a8"/><ellipse cx="497.6" cy="164.1" rx="5.60" ry="5.10" fill="#fcc0a8"/><ellipse cx="495.1" cy="169.1" rx="3.60" ry="3.60" fill="#fcc0a8"/><ellipse cx="485.1" cy="168.1" rx="4.60" ry="5.60" fill="#fcc0a8"/><ellipse cx="488.1" cy="163.6" rx="2.60" ry="2.60" fill="#fcc0a8"/><ellipse cx="476.0" cy="165.1" rx="3.60" ry="6.10" fill="#fcc0a8"/><ellipse cx="506.2" cy="173.2" rx="2.60" ry="3.60" fill="#fcc0a8"/><ellipse cx="510.7" cy="171.2" rx="2.60" ry="4.10" fill="#fcc0a8"/><ellipse cx="497.6" cy="186.2" rx="6.10" ry="6.10" fill="#fcc0a8"/><ellipse cx="495.1" cy="190.3" rx="4.10" ry="4.10" fill="#fcc0a8"/><ellipse cx="507.2" cy="187.2" rx="3.10" ry="4.10" fill="#fcc0a8"/><ellipse cx="476.5" cy="184.2" rx="3.10" ry="5.10" fill="#fcc0a8"/><ellipse cx="486.1" cy="181.2" rx="2.60" ry="2.60" fill="#fcc0a8"/><ellipse cx="500.1" cy="200.3" rx="4.10" ry="3.60" fill="#fcc0a8"/><ellipse cx="510.2" cy="202.3" rx="3.10" ry="3.10" fill="#fcc0a8"/><ellipse cx="514.2" cy="200.3" rx="2.60" ry="2.60" fill="#fcc0a8"/><ellipse cx="496.6" cy="156.1" rx="2.60" ry="2.60" fill="#fcc0a8"/><ellipse cx="536.3" cy="150.0" rx="2.60" ry="3.10" fill="#fcc0a8"/><ellipse cx="576.7" cy="150.6" rx="3.30" ry="3.30" fill="#fcc0a8"/><ellipse cx="571.7" cy="157.6" rx="2.10" ry="2.10" fill="#fcc0a8"/><ellipse cx="593.3" cy="160.6" rx="2.10" ry="2.10" fill="#fcc0a8"/><ellipse cx="593.8" cy="175.2" rx="2.60" ry="3.60" fill="#fcc0a8"/><ellipse cx="553.6" cy="189.7" rx="3.60" ry="3.10" fill="#fcc0a8"/><ellipse cx="591.3" cy="193.3" rx="3.10" ry="4.60" fill="#fcc0a8"/><ellipse cx="553.1" cy="201.8" rx="3.10" ry="3.10" fill="#fcc0a8"/><ellipse cx="565.6" cy="199.8" rx="2.30" ry="2.30" fill="#fcc0a8"/><ellipse cx="347.5" cy="214.7" rx="2.60" ry="4.10" fill="#fcc0a8"/><ellipse cx="347.5" cy="231.2" rx="2.10" ry="3.10" fill="#fcc0a8"/><ellipse cx="374.2" cy="223.7" rx="5.10" ry="3.90" fill="#fcc0a8"/><ellipse cx="383.3" cy="235.0" rx="3.60" ry="5.60" fill="#fcc0a8"/><ellipse cx="382.7" cy="240.3" rx="2.60" ry="2.60" fill="#fcc0a8"/><ellipse cx="393.9" cy="242.4" rx="3.90" ry="5.10" fill="#fcc0a8"/><ellipse cx="404.6" cy="212.0" rx="3.10" ry="4.10" fill="#fcc0a8"/><ellipse cx="406.7" cy="245.6" rx="3.60" ry="3.60" fill="#fcc0a8"/><ellipse cx="438.1" cy="201.7" rx="3.10" ry="3.10" fill="#fcc0a8"/><ellipse cx="450.0" cy="203.4" rx="4.10" ry="5.10" fill="#fcc0a8"/><ellipse cx="459.6" cy="202.3" rx="4.60" ry="4.10" fill="#fcc0a8"/><ellipse cx="450.0" cy="208.5" rx="3.10" ry="3.10" fill="#fcc0a8"/><ellipse cx="468.7" cy="211.3" rx="3.10" ry="3.10" fill="#fcc0a8"/><ellipse cx="445.5" cy="220.9" rx="2.60" ry="3.60" fill="#fcc0a8"/><ellipse cx="430.8" cy="244.7" rx="2.90" ry="2.90" fill="#fcc0a8"/><ellipse cx="464.7" cy="256.6" rx="3.60" ry="4.60" fill="#fcc0a8"/><ellipse cx="465.3" cy="247.5" rx="2.60" ry="2.60" fill="#fcc0a8"/><ellipse cx="473.8" cy="246.4" rx="2.60" ry="2.60" fill="#fcc0a8"/><ellipse cx="477.3" cy="206.8" rx="4.10" ry="5.10" fill="#fcc0a8"/><ellipse cx="486.3" cy="209.6" rx="3.60" ry="5.10" fill="#fcc0a8"/><ellipse cx="501.6" cy="203.4" rx="5.60" ry="5.10" fill="#fcc0a8"/><ellipse cx="501.0" cy="209.6" rx="4.10" ry="4.60" fill="#fcc0a8"/><ellipse cx="508.9" cy="204.5" rx="3.60" ry="3.60" fill="#fcc0a8"/><ellipse cx="513.5" cy="201.7" rx="3.10" ry="3.10" fill="#fcc0a8"/><ellipse cx="510.1" cy="213.0" rx="2.90" ry="2.90" fill="#fcc0a8"/><ellipse cx="521.4" cy="216.4" rx="2.60" ry="4.10" fill="#fcc0a8"/><ellipse cx="476.1" cy="249.8" rx="2.60" ry="2.60" fill="#fcc0a8"/><ellipse cx="480.7" cy="261.7" rx="3.10" ry="3.10" fill="#fcc0a8"/><ellipse cx="535.0" cy="242.4" rx="2.60" ry="2.60" fill="#fcc0a8"/><ellipse cx="529.3" cy="268.4" rx="3.60" ry="3.60" fill="#fcc0a8"/><ellipse cx="543.5" cy="215.8" rx="3.60" ry="6.10" fill="#fcc0a8"/><ellipse cx="553.1" cy="204.5" rx="3.60" ry="4.60" fill="#fcc0a8"/><ellipse cx="555.4" cy="263.3" rx="3.60" ry="4.60" fill="#fcc0a8"/><ellipse cx="571.2" cy="246.4" rx="2.30" ry="2.30" fill="#fcc0a8"/><ellipse cx="565.6" cy="200.6" rx="2.10" ry="2.10" fill="#fcc0a8"/></g><g filter="url(#bl)"><ellipse cx="373.1" cy="36.1" rx="2.40" ry="3.40" fill="#d0301f"/><ellipse cx="360.6" cy="42.6" rx="2.90" ry="3.90" fill="#f26848"/><ellipse cx="387.7" cy="34.6" rx="2.40" ry="2.90" fill="#fcbba1"/><ellipse cx="406.8" cy="30.6" rx="2.40" ry="3.90" fill="#d0301f"/><ellipse cx="396.7" cy="43.6" rx="2.40" ry="2.40" fill="#fcbba1"/><ellipse cx="405.3" cy="47.2" rx="2.90" ry="2.90" fill="#f26848"/><ellipse cx="391.2" cy="60.2" rx="2.90" ry="3.90" fill="#d0301f"/><ellipse cx="388.7" cy="61.7" rx="1.90" ry="1.90" fill="#f26848"/><ellipse cx="373.6" cy="68.8" rx="2.90" ry="3.90" fill="#d0301f"/><ellipse cx="348.5" cy="58.2" rx="1.90" ry="1.90" fill="#f26848"/><ellipse cx="351.0" cy="74.8" rx="2.40" ry="2.40" fill="#f26848"/><ellipse cx="408.3" cy="68.8" rx="1.90" ry="1.90" fill="#f26848"/><ellipse cx="454.7" cy="23.5" rx="3.40" ry="3.90" fill="#d0301f"/><ellipse cx="424.6" cy="35.6" rx="2.20" ry="3.40" fill="#d0301f"/><ellipse cx="443.2" cy="27.0" rx="1.90" ry="1.90" fill="#f26848"/><ellipse cx="466.3" cy="32.1" rx="2.40" ry="2.40" fill="#f26848"/><ellipse cx="471.8" cy="46.2" rx="1.60" ry="2.40" fill="#f26848"/><ellipse cx="418.5" cy="49.2" rx="1.90" ry="2.90" fill="#fcbba1"/><ellipse cx="445.7" cy="61.2" rx="2.40" ry="3.40" fill="#fcbba1"/><ellipse cx="472.8" cy="62.7" rx="2.40" ry="3.90" fill="#f26848"/><ellipse cx="417.0" cy="77.8" rx="2.40" ry="2.40" fill="#d0301f"/><ellipse cx="444.2" cy="77.8" rx="2.40" ry="2.40" fill="#d0301f"/><ellipse cx="467.3" cy="77.8" rx="2.40" ry="2.40" fill="#d0301f"/><ellipse cx="507.7" cy="26.0" rx="3.40" ry="3.90" fill="#d0301f"/><ellipse cx="503.1" cy="33.6" rx="2.40" ry="2.40" fill="#fcbba1"/><ellipse cx="509.7" cy="38.6" rx="1.90" ry="1.90" fill="#d0301f"/><ellipse cx="526.8" cy="34.1" rx="2.40" ry="2.40" fill="#d0301f"/><ellipse cx="483.5" cy="23.0" rx="1.40" ry="1.40" fill="#f26848"/><ellipse cx="529.3" cy="17.5" rx="1.90" ry="1.90" fill="#d0301f"/><ellipse cx="529.8" cy="65.2" rx="2.20" ry="2.20" fill="#f26848"/><ellipse cx="475.5" cy="63.2" rx="1.90" ry="1.90" fill="#f26848"/><ellipse cx="495.1" cy="73.3" rx="2.40" ry="4.40" fill="#d0301f"/><ellipse cx="500.1" cy="76.8" rx="2.90" ry="2.90" fill="#d0301f"/><ellipse cx="509.7" cy="77.8" rx="2.40" ry="2.40" fill="#d0301f"/><ellipse cx="524.2" cy="76.3" rx="2.40" ry="2.40" fill="#d0301f"/><ellipse cx="545.5" cy="21.5" rx="1.90" ry="3.40" fill="#d0301f"/><ellipse cx="566.1" cy="22.5" rx="2.20" ry="2.20" fill="#fcbba1"/><ellipse cx="559.6" cy="40.6" rx="1.60" ry="3.40" fill="#d0301f"/><ellipse cx="568.1" cy="50.2" rx="2.40" ry="2.40" fill="#f26848"/><ellipse cx="548.5" cy="52.2" rx="1.90" ry="3.40" fill="#fcbba1"/><ellipse cx="581.7" cy="54.2" rx="1.40" ry="2.90" fill="#fcbba1"/><ellipse cx="595.8" cy="19.0" rx="1.20" ry="1.20" fill="#f26848"/><ellipse cx="360.1" cy="94.0" rx="1.60" ry="3.40" fill="#fcbba1"/><ellipse cx="368.6" cy="101.6" rx="2.40" ry="3.40" fill="#f26848"/><ellipse cx="379.7" cy="112.2" rx="2.20" ry="2.20" fill="#f26848"/><ellipse cx="381.2" cy="118.2" rx="3.40" ry="3.40" fill="#d0301f"/><ellipse cx="403.8" cy="94.0" rx="2.20" ry="2.20" fill="#d0301f"/><ellipse cx="398.3" cy="127.2" rx="2.90" ry="5.90" fill="#fcbba1"/><ellipse cx="392.2" cy="128.2" rx="1.90" ry="2.90" fill="#f26848"/><ellipse cx="348.0" cy="126.2" rx="1.60" ry="3.40" fill="#f26848"/><ellipse cx="351.5" cy="133.8" rx="1.60" ry="2.90" fill="#fcbba1"/><ellipse cx="406.3" cy="133.3" rx="1.40" ry="1.40" fill="#f26848"/><ellipse cx="417.0" cy="79.0" rx="1.90" ry="2.90" fill="#f26848"/><ellipse cx="444.2" cy="81.0" rx="3.40" ry="3.40" fill="#d0301f"/><ellipse cx="444.2" cy="87.0" rx="2.90" ry="2.90" fill="#d0301f"/><ellipse cx="449.2" cy="83.0" rx="2.40" ry="2.40" fill="#f26848"/><ellipse cx="432.6" cy="90.6" rx="3.90" ry="4.40" fill="#d0301f"/><ellipse cx="437.1" cy="90.1" rx="2.40" ry="2.40" fill="#d0301f"/><ellipse cx="431.1" cy="96.1" rx="2.40" ry="2.40" fill="#f26848"/><ellipse cx="433.1" cy="107.2" rx="4.40" ry="6.40" fill="#d0301f"/><ellipse cx="429.1" cy="106.2" rx="1.90" ry="3.40" fill="#d0301f"/><ellipse cx="444.2" cy="107.2" rx="4.90" ry="5.90" fill="#d0301f"/><ellipse cx="449.2" cy="101.1" rx="2.90" ry="2.90" fill="#d0301f"/><ellipse cx="460.2" cy="109.2" rx="4.40" ry="4.40" fill="#d0301f"/><ellipse cx="457.7" cy="105.1" rx="2.40" ry="2.40" fill="#f26848"/><ellipse cx="465.8" cy="85.0" rx="3.90" ry="5.40" fill="#d0301f"/><ellipse cx="468.3" cy="80.0" rx="2.40" ry="2.40" fill="#d0301f"/><ellipse cx="471.8" cy="99.1" rx="3.40" ry="5.40" fill="#d0301f"/><ellipse cx="469.3" cy="105.1" rx="1.90" ry="1.90" fill="#f26848"/><ellipse cx="431.1" cy="125.2" rx="3.40" ry="5.40" fill="#d0301f"/><ellipse cx="435.6" cy="120.2" rx="1.90" ry="1.90" fill="#f26848"/><ellipse cx="443.2" cy="127.3" rx="2.90" ry="3.40" fill="#d0301f"/><ellipse cx="446.7" cy="123.2" rx="2.40" ry="2.40" fill="#d0301f"/><ellipse cx="461.8" cy="123.2" rx="3.90" ry="5.40" fill="#d0301f"/><ellipse cx="464.3" cy="128.3" rx="2.90" ry="2.90" fill="#d0301f"/><ellipse cx="471.3" cy="125.2" rx="3.90" ry="5.40" fill="#d0301f"/><ellipse cx="431.1" cy="135.3" rx="2.40" ry="3.40" fill="#d0301f"/><ellipse cx="461.3" cy="138.3" rx="2.40" ry="2.40" fill="#d0301f"/><ellipse cx="487.1" cy="82.5" rx="2.90" ry="3.40" fill="#d0301f"/><ellipse cx="498.1" cy="78.5" rx="3.40" ry="3.40" fill="#d0301f"/><ellipse cx="496.1" cy="77.0" rx="2.40" ry="2.40" fill="#d0301f"/><ellipse cx="509.2" cy="78.5" rx="3.40" ry="3.40" fill="#d0301f"/><ellipse cx="503.1" cy="86.0" rx="2.90" ry="3.40" fill="#d0301f"/><ellipse cx="508.7" cy="88.0" rx="3.40" ry="5.40" fill="#d0301f"/><ellipse cx="514.2" cy="84.0" rx="2.90" ry="2.90" fill="#d0301f"/><ellipse cx="508.2" cy="95.6" rx="3.40" ry="3.40" fill="#d0301f"/><ellipse cx="512.2" cy="96.1" rx="2.40" ry="2.40" fill="#f26848"/><ellipse cx="496.6" cy="104.1" rx="4.90" ry="7.40" fill="#d0301f"/><ellipse cx="482.0" cy="107.2" rx="5.40" ry="5.40" fill="#d0301f"/><ellipse cx="501.1" cy="103.1" rx="1.90" ry="1.90" fill="#f26848"/><ellipse cx="487.1" cy="110.2" rx="2.40" ry="2.40" fill="#f26848"/><ellipse cx="513.2" cy="106.2" rx="3.40" ry="2.40" fill="#d0301f"/><ellipse cx="518.2" cy="106.7" rx="2.40" ry="2.40" fill="#f26848"/><ellipse cx="487.1" cy="124.2" rx="4.40" ry="6.40" fill="#d0301f"/><ellipse cx="512.2" cy="128.3" rx="1.90" ry="3.90" fill="#d0301f"/><ellipse cx="503.1" cy="125.7" rx="1.90" ry="1.90" fill="#f26848"/><ellipse cx="475.5" cy="131.3" rx="1.90" ry="1.90" fill="#f26848"/><ellipse cx="491.1" cy="138.8" rx="2.40" ry="2.40" fill="#d0301f"/><ellipse cx="496.6" cy="138.8" rx="2.40" ry="2.40" fill="#d0301f"/><ellipse cx="524.2" cy="78.0" rx="2.40" ry="3.90" fill="#f26848"/><ellipse cx="541.5" cy="78.5" rx="1.60" ry="2.40" fill="#fcbba1"/><ellipse cx="547.5" cy="87.6" rx="1.40" ry="2.40" fill="#fcbba1"/><ellipse cx="582.2" cy="90.6" rx="2.40" ry="3.90" fill="#f26848"/><ellipse cx="578.7" cy="92.1" rx="2.40" ry="2.40" fill="#fcbba1"/><ellipse cx="594.3" cy="104.6" rx="2.90" ry="3.90" fill="#f26848"/><ellipse cx="578.7" cy="112.2" rx="3.40" ry="3.40" fill="#d0301f"/><ellipse cx="562.6" cy="118.2" rx="1.60" ry="2.90" fill="#f26848"/><ellipse cx="573.7" cy="125.2" rx="1.60" ry="2.90" fill="#f26848"/><ellipse cx="596.8" cy="125.7" rx="1.90" ry="3.90" fill="#f26848"/><ellipse cx="359.1" cy="173.7" rx="2.40" ry="3.90" fill="#d0301f"/><ellipse cx="378.7" cy="164.1" rx="1.90" ry="1.90" fill="#f26848"/><ellipse cx="390.2" cy="193.3" rx="3.40" ry="4.40" fill="#d0301f"/><ellipse cx="370.6" cy="200.3" rx="2.90" ry="2.40" fill="#f26848"/><ellipse cx="407.3" cy="202.3" rx="2.40" ry="2.40" fill="#fcbba1"/><ellipse cx="347.5" cy="162.6" rx="1.40" ry="1.40" fill="#f26848"/><ellipse cx="445.7" cy="146.0" rx="3.90" ry="4.90" fill="#d0301f"/><ellipse cx="460.2" cy="141.0" rx="3.40" ry="2.40" fill="#d0301f"/><ellipse cx="468.3" cy="146.0" rx="3.90" ry="5.40" fill="#d0301f"/><ellipse cx="472.3" cy="150.0" rx="2.40" ry="2.40" fill="#d0301f"/><ellipse cx="430.1" cy="147.5" rx="2.40" ry="2.40" fill="#d0301f"/><ellipse cx="419.5" cy="154.1" rx="2.20" ry="2.20" fill="#f26848"/><ellipse cx="445.2" cy="161.6" rx="4.40" ry="5.40" fill="#d0301f"/><ellipse cx="449.2" cy="164.6" rx="2.40" ry="2.40" fill="#f26848"/><ellipse cx="460.2" cy="164.1" rx="4.40" ry="4.40" fill="#d0301f"/><ellipse cx="466.8" cy="165.6" rx="2.40" ry="2.40" fill="#d0301f"/><ellipse cx="472.8" cy="164.1" rx="3.40" ry="5.90" fill="#d0301f"/><ellipse cx="431.1" cy="160.1" rx="2.40" ry="2.40" fill="#f26848"/><ellipse cx="433.6" cy="167.1" rx="2.90" ry="2.90" fill="#d0301f"/><ellipse cx="445.2" cy="181.2" rx="3.40" ry="3.90" fill="#d0301f"/><ellipse cx="434.6" cy="179.7" rx="2.90" ry="3.40" fill="#f26848"/><ellipse cx="460.2" cy="186.2" rx="4.90" ry="4.40" fill="#d0301f"/><ellipse cx="471.8" cy="184.2" rx="3.90" ry="5.40" fill="#d0301f"/><ellipse cx="469.3" cy="192.3" rx="2.40" ry="2.40" fill="#f26848"/><ellipse cx="438.1" cy="196.3" rx="5.40" ry="5.40" fill="#d0301f"/><ellipse cx="445.2" cy="199.3" rx="3.40" ry="3.40" fill="#d0301f"/><ellipse cx="449.2" cy="196.3" rx="2.40" ry="2.40" fill="#f26848"/><ellipse cx="459.2" cy="199.3" rx="4.40" ry="4.90" fill="#d0301f"/><ellipse cx="455.2" cy="144.0" rx="1.90" ry="1.90" fill="#f26848"/><ellipse cx="490.1" cy="142.0" rx="2.40" ry="2.90" fill="#d0301f"/><ellipse cx="499.6" cy="145.5" rx="3.90" ry="4.90" fill="#d0301f"/><ellipse cx="496.1" cy="143.0" rx="2.40" ry="2.40" fill="#d0301f"/><ellipse cx="510.7" cy="143.0" rx="2.40" ry="3.40" fill="#d0301f"/><ellipse cx="507.2" cy="148.0" rx="2.20" ry="2.20" fill="#d0301f"/><ellipse cx="509.2" cy="157.1" rx="2.90" ry="4.40" fill="#d0301f"/><ellipse cx="505.2" cy="159.1" rx="1.90" ry="1.90" fill="#f26848"/><ellipse cx="497.6" cy="164.1" rx="4.90" ry="4.40" fill="#d0301f"/><ellipse cx="495.1" cy="169.1" rx="2.90" ry="2.90" fill="#d0301f"/><ellipse cx="485.1" cy="168.1" rx="3.90" ry="4.90" fill="#d0301f"/><ellipse cx="488.1" cy="163.6" rx="1.90" ry="1.90" fill="#f26848"/><ellipse cx="476.0" cy="165.1" rx="2.90" ry="5.40" fill="#d0301f"/><ellipse cx="506.2" cy="173.2" rx="1.90" ry="2.90" fill="#d0301f"/><ellipse cx="510.7" cy="171.2" rx="1.90" ry="3.40" fill="#d0301f"/><ellipse cx="497.6" cy="186.2" rx="5.40" ry="5.40" fill="#d0301f"/><ellipse cx="495.1" cy="190.3" rx="3.40" ry="3.40" fill="#d0301f"/><ellipse cx="507.2" cy="187.2" rx="2.40" ry="3.40" fill="#d0301f"/><ellipse cx="476.5" cy="184.2" rx="2.40" ry="4.40" fill="#d0301f"/><ellipse cx="486.1" cy="181.2" rx="1.90" ry="1.90" fill="#f26848"/><ellipse cx="500.1" cy="200.3" rx="3.40" ry="2.90" fill="#d0301f"/><ellipse cx="510.2" cy="202.3" rx="2.40" ry="2.40" fill="#d0301f"/><ellipse cx="514.2" cy="200.3" rx="1.90" ry="1.90" fill="#f26848"/><ellipse cx="496.6" cy="156.1" rx="1.90" ry="1.90" fill="#f26848"/><ellipse cx="536.3" cy="150.0" rx="1.90" ry="2.40" fill="#f26848"/><ellipse cx="558.6" cy="143.0" rx="2.40" ry="1.90" fill="#fcbba1"/><ellipse cx="576.7" cy="150.6" rx="2.60" ry="2.60" fill="#d0301f"/><ellipse cx="571.2" cy="162.6" rx="1.60" ry="5.40" fill="#fcbba1"/><ellipse cx="571.7" cy="157.6" rx="1.40" ry="1.40" fill="#f26848"/><ellipse cx="556.1" cy="161.1" rx="1.40" ry="2.90" fill="#fcbba1"/><ellipse cx="589.8" cy="162.1" rx="1.60" ry="3.90" fill="#fcbba1"/><ellipse cx="593.3" cy="160.6" rx="1.40" ry="1.40" fill="#f26848"/><ellipse cx="593.8" cy="175.2" rx="1.90" ry="2.90" fill="#f26848"/><ellipse cx="553.6" cy="189.7" rx="2.90" ry="2.40" fill="#d0301f"/><ellipse cx="591.3" cy="193.3" rx="2.40" ry="3.90" fill="#d0301f"/><ellipse cx="553.1" cy="201.8" rx="2.40" ry="2.40" fill="#d0301f"/><ellipse cx="565.6" cy="199.8" rx="1.60" ry="1.60" fill="#f26848"/><ellipse cx="347.5" cy="214.7" rx="1.90" ry="3.40" fill="#d0301f"/><ellipse cx="347.5" cy="231.2" rx="1.40" ry="2.40" fill="#f26848"/><ellipse cx="363.0" cy="206.1" rx="1.60" ry="2.90" fill="#fcbba1"/><ellipse cx="374.2" cy="223.7" rx="4.40" ry="3.20" fill="#d0301f"/><ellipse cx="383.3" cy="235.0" rx="2.90" ry="4.90" fill="#d0301f"/><ellipse cx="382.7" cy="240.3" rx="1.90" ry="1.90" fill="#f26848"/><ellipse cx="393.9" cy="242.4" rx="3.20" ry="4.40" fill="#d0301f"/><ellipse cx="404.6" cy="212.0" rx="2.40" ry="3.40" fill="#d0301f"/><ellipse cx="406.7" cy="245.6" rx="2.90" ry="2.90" fill="#d0301f"/><ellipse cx="360.9" cy="236.5" rx="1.40" ry="2.40" fill="#fcbba1"/><ellipse cx="438.1" cy="201.7" rx="2.40" ry="2.40" fill="#d0301f"/><ellipse cx="450.0" cy="203.4" rx="3.40" ry="4.40" fill="#d0301f"/><ellipse cx="459.6" cy="202.3" rx="3.90" ry="3.40" fill="#d0301f"/><ellipse cx="450.0" cy="208.5" rx="2.40" ry="2.40" fill="#d0301f"/><ellipse cx="468.7" cy="211.3" rx="2.40" ry="2.40" fill="#d0301f"/><ellipse cx="445.5" cy="220.9" rx="1.90" ry="2.90" fill="#f26848"/><ellipse cx="430.8" cy="244.7" rx="2.20" ry="2.20" fill="#f26848"/><ellipse cx="464.7" cy="256.6" rx="2.90" ry="3.90" fill="#d0301f"/><ellipse cx="465.3" cy="247.5" rx="1.90" ry="1.90" fill="#f26848"/><ellipse cx="473.8" cy="246.4" rx="1.90" ry="1.90" fill="#f26848"/><ellipse cx="456.8" cy="268.4" rx="2.40" ry="2.40" fill="#fcbba1"/><ellipse cx="477.3" cy="206.8" rx="3.40" ry="4.40" fill="#d0301f"/><ellipse cx="486.3" cy="209.6" rx="2.90" ry="4.40" fill="#d0301f"/><ellipse cx="501.6" cy="203.4" rx="4.90" ry="4.40" fill="#d0301f"/><ellipse cx="501.0" cy="209.6" rx="3.40" ry="3.90" fill="#d0301f"/><ellipse cx="508.9" cy="204.5" rx="2.90" ry="2.90" fill="#f26848"/><ellipse cx="513.5" cy="201.7" rx="2.40" ry="2.40" fill="#d0301f"/><ellipse cx="510.1" cy="213.0" rx="2.20" ry="2.20" fill="#f26848"/><ellipse cx="503.3" cy="217.5" rx="1.60" ry="2.90" fill="#fcbba1"/><ellipse cx="521.4" cy="216.4" rx="1.90" ry="3.40" fill="#f26848"/><ellipse cx="476.1" cy="249.8" rx="1.90" ry="1.90" fill="#f26848"/><ellipse cx="480.7" cy="261.7" rx="2.40" ry="2.40" fill="#f26848"/><ellipse cx="535.0" cy="242.4" rx="1.90" ry="1.90" fill="#f26848"/><ellipse cx="529.3" cy="268.4" rx="2.90" ry="2.90" fill="#d0301f"/><ellipse cx="543.5" cy="215.8" rx="2.90" ry="5.40" fill="#d0301f"/><ellipse cx="553.1" cy="204.5" rx="2.90" ry="3.90" fill="#d0301f"/><ellipse cx="556.0" cy="233.9" rx="1.90" ry="3.40" fill="#fcbba1"/><ellipse cx="555.4" cy="263.3" rx="2.90" ry="3.90" fill="#d0301f"/><ellipse cx="571.2" cy="246.4" rx="1.60" ry="1.60" fill="#f26848"/><ellipse cx="565.6" cy="200.6" rx="1.40" ry="1.40" fill="#f26848"/><ellipse cx="525.3" cy="56.7" rx="2.00" ry="2.00" fill="#fdd3c1"/><ellipse cx="572.7" cy="34.6" rx="3.00" ry="1.50" fill="#fcac8f"/><ellipse cx="574.2" cy="106.2" rx="2.00" ry="1.50" fill="#fcac8f"/><ellipse cx="558.6" cy="109.2" rx="1.00" ry="3.00" fill="#fcac8f"/><ellipse cx="531.8" cy="171.2" rx="1.00" ry="2.50" fill="#fcac8f"/><ellipse cx="379.0" cy="247.2" rx="1.00" ry="2.00" fill="#fcac8f"/><ellipse cx="351.3" cy="232.3" rx="0.80" ry="2.00" fill="#fcac8f"/><ellipse cx="387.7" cy="34.6" rx="2.00" ry="2.50" fill="#f5634a"/><ellipse cx="396.7" cy="43.6" rx="2.00" ry="2.00" fill="#f5634a"/><ellipse cx="418.5" cy="49.2" rx="1.50" ry="2.50" fill="#f5634a"/><ellipse cx="445.7" cy="61.2" rx="2.00" ry="3.00" fill="#f5634a"/><ellipse cx="503.1" cy="33.6" rx="2.00" ry="2.00" fill="#f5634a"/><ellipse cx="566.1" cy="22.5" rx="1.80" ry="1.80" fill="#f5634a"/><ellipse cx="548.5" cy="52.2" rx="1.50" ry="3.00" fill="#f5634a"/><ellipse cx="581.7" cy="54.2" rx="1.00" ry="2.50" fill="#f5634a"/><ellipse cx="360.1" cy="94.0" rx="1.20" ry="3.00" fill="#f5634a"/><ellipse cx="398.3" cy="127.2" rx="2.50" ry="5.50" fill="#f5634a"/><ellipse cx="351.5" cy="133.8" rx="1.20" ry="2.50" fill="#f5634a"/><ellipse cx="541.5" cy="78.5" rx="1.20" ry="2.00" fill="#f5634a"/><ellipse cx="547.5" cy="87.6" rx="1.00" ry="2.00" fill="#f5634a"/><ellipse cx="578.7" cy="92.1" rx="2.00" ry="2.00" fill="#f5634a"/><ellipse cx="407.3" cy="202.3" rx="2.00" ry="2.00" fill="#f5634a"/><ellipse cx="558.6" cy="143.0" rx="2.00" ry="1.50" fill="#f5634a"/><ellipse cx="571.2" cy="162.6" rx="1.20" ry="5.00" fill="#f5634a"/><ellipse cx="556.1" cy="161.1" rx="1.00" ry="2.50" fill="#f5634a"/><ellipse cx="589.8" cy="162.1" rx="1.20" ry="3.50" fill="#f5634a"/><ellipse cx="363.0" cy="206.1" rx="1.20" ry="2.50" fill="#f5634a"/><ellipse cx="360.9" cy="236.5" rx="1.00" ry="2.00" fill="#f5634a"/><ellipse cx="456.8" cy="268.4" rx="2.00" ry="2.00" fill="#f5634a"/><ellipse cx="503.3" cy="217.5" rx="1.20" ry="2.50" fill="#f5634a"/><ellipse cx="556.0" cy="233.9" rx="1.50" ry="3.00" fill="#f5634a"/><ellipse cx="360.6" cy="42.6" rx="2.12" ry="2.98" fill="#bf151b"/><ellipse cx="405.3" cy="47.2" rx="2.12" ry="2.12" fill="#bf151b"/><ellipse cx="388.7" cy="61.7" rx="1.27" ry="1.27" fill="#bf151b"/><ellipse cx="348.5" cy="58.2" rx="1.27" ry="1.27" fill="#bf151b"/><ellipse cx="351.0" cy="74.8" rx="1.70" ry="1.70" fill="#bf151b"/><ellipse cx="408.3" cy="68.8" rx="1.27" ry="1.27" fill="#bf151b"/><ellipse cx="443.2" cy="27.0" rx="1.27" ry="1.27" fill="#bf151b"/><ellipse cx="466.3" cy="32.1" rx="1.70" ry="1.70" fill="#bf151b"/><ellipse cx="471.8" cy="46.2" rx="1.02" ry="1.70" fill="#bf151b"/><ellipse cx="472.8" cy="62.7" rx="1.70" ry="2.98" fill="#bf151b"/><ellipse cx="483.5" cy="23.0" rx="0.85" ry="0.85" fill="#bf151b"/><ellipse cx="529.8" cy="65.2" rx="1.53" ry="1.53" fill="#bf151b"/><ellipse cx="475.5" cy="63.2" rx="1.27" ry="1.27" fill="#bf151b"/><ellipse cx="568.1" cy="50.2" rx="1.70" ry="1.70" fill="#bf151b"/><ellipse cx="595.8" cy="19.0" rx="0.68" ry="0.68" fill="#bf151b"/><ellipse cx="368.6" cy="101.6" rx="1.70" ry="2.55" fill="#bf151b"/><ellipse cx="379.7" cy="112.2" rx="1.53" ry="1.53" fill="#bf151b"/><ellipse cx="392.2" cy="128.2" rx="1.27" ry="2.12" fill="#bf151b"/><ellipse cx="348.0" cy="126.2" rx="1.02" ry="2.55" fill="#bf151b"/><ellipse cx="406.3" cy="133.3" rx="0.85" ry="0.85" fill="#bf151b"/><ellipse cx="417.0" cy="79.0" rx="1.27" ry="2.12" fill="#bf151b"/><ellipse cx="449.2" cy="83.0" rx="1.70" ry="1.70" fill="#bf151b"/><ellipse cx="431.1" cy="96.1" rx="1.70" ry="1.70" fill="#bf151b"/><ellipse cx="457.7" cy="105.1" rx="1.70" ry="1.70" fill="#bf151b"/><ellipse cx="469.3" cy="105.1" rx="1.27" ry="1.27" fill="#bf151b"/><ellipse cx="435.6" cy="120.2" rx="1.27" ry="1.27" fill="#bf151b"/><ellipse cx="512.2" cy="96.1" rx="1.70" ry="1.70" fill="#bf151b"/><ellipse cx="501.1" cy="103.1" rx="1.27" ry="1.27" fill="#bf151b"/><ellipse cx="487.1" cy="110.2" rx="1.70" ry="1.70" fill="#bf151b"/><ellipse cx="518.2" cy="106.7" rx="1.70" ry="1.70" fill="#bf151b"/><ellipse cx="503.1" cy="125.7" rx="1.27" ry="1.27" fill="#bf151b"/><ellipse cx="475.5" cy="131.3" rx="1.27" ry="1.27" fill="#bf151b"/><ellipse cx="524.2" cy="78.0" rx="1.70" ry="2.98" fill="#bf151b"/><ellipse cx="582.2" cy="90.6" rx="1.70" ry="2.98" fill="#bf151b"/><ellipse cx="594.3" cy="104.6" rx="2.12" ry="2.98" fill="#bf151b"/><ellipse cx="562.6" cy="118.2" rx="1.02" ry="2.12" fill="#bf151b"/><ellipse cx="573.7" cy="125.2" rx="1.02" ry="2.12" fill="#bf151b"/><ellipse cx="596.8" cy="125.7" rx="1.27" ry="2.98" fill="#bf151b"/><ellipse cx="378.7" cy="164.1" rx="1.27" ry="1.27" fill="#bf151b"/><ellipse cx="370.6" cy="200.3" rx="2.12" ry="1.70" fill="#bf151b"/><ellipse cx="347.5" cy="162.6" rx="0.85" ry="0.85" fill="#bf151b"/><ellipse cx="419.5" cy="154.1" rx="1.53" ry="1.53" fill="#bf151b"/><ellipse cx="449.2" cy="164.6" rx="1.70" ry="1.70" fill="#bf151b"/><ellipse cx="431.1" cy="160.1" rx="1.70" ry="1.70" fill="#bf151b"/><ellipse cx="434.6" cy="179.7" rx="2.12" ry="2.55" fill="#bf151b"/><ellipse cx="469.3" cy="192.3" rx="1.70" ry="1.70" fill="#bf151b"/><ellipse cx="449.2" cy="196.3" rx="1.70" ry="1.70" fill="#bf151b"/><ellipse cx="455.2" cy="144.0" rx="1.27" ry="1.27" fill="#bf151b"/><ellipse cx="505.2" cy="159.1" rx="1.27" ry="1.27" fill="#bf151b"/><ellipse cx="488.1" cy="163.6" rx="1.27" ry="1.27" fill="#bf151b"/><ellipse cx="486.1" cy="181.2" rx="1.27" ry="1.27" fill="#bf151b"/><ellipse cx="514.2" cy="200.3" rx="1.27" ry="1.27" fill="#bf151b"/><ellipse cx="496.6" cy="156.1" rx="1.27" ry="1.27" fill="#bf151b"/><ellipse cx="536.3" cy="150.0" rx="1.27" ry="1.70" fill="#bf151b"/><ellipse cx="571.7" cy="157.6" rx="0.85" ry="0.85" fill="#bf151b"/><ellipse cx="593.3" cy="160.6" rx="0.85" ry="0.85" fill="#bf151b"/><ellipse cx="593.8" cy="175.2" rx="1.27" ry="2.12" fill="#bf151b"/><ellipse cx="565.6" cy="199.8" rx="1.02" ry="1.02" fill="#bf151b"/><ellipse cx="347.5" cy="231.2" rx="0.85" ry="1.70" fill="#bf151b"/><ellipse cx="382.7" cy="240.3" rx="1.27" ry="1.27" fill="#bf151b"/><ellipse cx="445.5" cy="220.9" rx="1.27" ry="2.12" fill="#bf151b"/><ellipse cx="430.8" cy="244.7" rx="1.53" ry="1.53" fill="#bf151b"/><ellipse cx="465.3" cy="247.5" rx="1.27" ry="1.27" fill="#bf151b"/><ellipse cx="473.8" cy="246.4" rx="1.27" ry="1.27" fill="#bf151b"/><ellipse cx="508.9" cy="204.5" rx="2.12" ry="2.12" fill="#bf151b"/><ellipse cx="510.1" cy="213.0" rx="1.53" ry="1.53" fill="#bf151b"/><ellipse cx="521.4" cy="216.4" rx="1.27" ry="2.55" fill="#bf151b"/><ellipse cx="476.1" cy="249.8" rx="1.27" ry="1.27" fill="#bf151b"/><ellipse cx="480.7" cy="261.7" rx="1.70" ry="1.70" fill="#bf151b"/><ellipse cx="535.0" cy="242.4" rx="1.27" ry="1.27" fill="#bf151b"/><ellipse cx="571.2" cy="246.4" rx="1.02" ry="1.02" fill="#bf151b"/><ellipse cx="565.6" cy="200.6" rx="0.85" ry="0.85" fill="#bf151b"/><ellipse cx="373.1" cy="36.1" rx="1.52" ry="2.28" fill="#6d010e"/><ellipse cx="406.8" cy="30.6" rx="1.52" ry="2.66" fill="#6d010e"/><ellipse cx="391.2" cy="60.2" rx="1.90" ry="2.66" fill="#6d010e"/><ellipse cx="373.6" cy="68.8" rx="1.90" ry="2.66" fill="#6d010e"/><ellipse cx="454.7" cy="23.5" rx="2.28" ry="2.66" fill="#6d010e"/><ellipse cx="424.6" cy="35.6" rx="1.37" ry="2.28" fill="#6d010e"/><ellipse cx="417.0" cy="77.8" rx="1.52" ry="1.52" fill="#6d010e"/><ellipse cx="444.2" cy="77.8" rx="1.52" ry="1.52" fill="#6d010e"/><ellipse cx="467.3" cy="77.8" rx="1.52" ry="1.52" fill="#6d010e"/><ellipse cx="507.7" cy="26.0" rx="2.28" ry="2.66" fill="#6d010e"/><ellipse cx="509.7" cy="38.6" rx="1.14" ry="1.14" fill="#6d010e"/><ellipse cx="526.8" cy="34.1" rx="1.52" ry="1.52" fill="#6d010e"/><ellipse cx="529.3" cy="17.5" rx="1.14" ry="1.14" fill="#6d010e"/><ellipse cx="495.1" cy="73.3" rx="1.52" ry="3.04" fill="#6d010e"/><ellipse cx="500.1" cy="76.8" rx="1.90" ry="1.90" fill="#6d010e"/><ellipse cx="509.7" cy="77.8" rx="1.52" ry="1.52" fill="#6d010e"/><ellipse cx="524.2" cy="76.3" rx="1.52" ry="1.52" fill="#6d010e"/><ellipse cx="545.5" cy="21.5" rx="1.14" ry="2.28" fill="#6d010e"/><ellipse cx="559.6" cy="40.6" rx="0.91" ry="2.28" fill="#6d010e"/><ellipse cx="381.2" cy="118.2" rx="2.28" ry="2.28" fill="#6d010e"/><ellipse cx="403.8" cy="94.0" rx="1.37" ry="1.37" fill="#6d010e"/><ellipse cx="444.2" cy="81.0" rx="2.28" ry="2.28" fill="#6d010e"/><ellipse cx="444.2" cy="87.0" rx="1.90" ry="1.90" fill="#6d010e"/><ellipse cx="432.6" cy="90.6" rx="2.66" ry="3.04" fill="#6d010e"/><ellipse cx="437.1" cy="90.1" rx="1.52" ry="1.52" fill="#6d010e"/><ellipse cx="433.1" cy="107.2" rx="3.04" ry="4.56" fill="#6d010e"/><ellipse cx="429.1" cy="106.2" rx="1.14" ry="2.28" fill="#6d010e"/><ellipse cx="444.2" cy="107.2" rx="3.42" ry="4.18" fill="#6d010e"/><ellipse cx="449.2" cy="101.1" rx="1.90" ry="1.90" fill="#6d010e"/><ellipse cx="460.2" cy="109.2" rx="3.04" ry="3.04" fill="#6d010e"/><ellipse cx="465.8" cy="85.0" rx="2.66" ry="3.80" fill="#6d010e"/><ellipse cx="468.3" cy="80.0" rx="1.52" ry="1.52" fill="#6d010e"/><ellipse cx="471.8" cy="99.1" rx="2.28" ry="3.80" fill="#6d010e"/><ellipse cx="431.1" cy="125.2" rx="2.28" ry="3.80" fill="#6d010e"/><ellipse cx="443.2" cy="127.3" rx="1.90" ry="2.28" fill="#6d010e"/><ellipse cx="446.7" cy="123.2" rx="1.52" ry="1.52" fill="#6d010e"/><ellipse cx="461.8" cy="123.2" rx="2.66" ry="3.80" fill="#6d010e"/><ellipse cx="464.3" cy="128.3" rx="1.90" ry="1.90" fill="#6d010e"/><ellipse cx="471.3" cy="125.2" rx="2.66" ry="3.80" fill="#6d010e"/><ellipse cx="431.1" cy="135.3" rx="1.52" ry="2.28" fill="#6d010e"/><ellipse cx="461.3" cy="138.3" rx="1.52" ry="1.52" fill="#6d010e"/><ellipse cx="487.1" cy="82.5" rx="1.90" ry="2.28" fill="#6d010e"/><ellipse cx="498.1" cy="78.5" rx="2.28" ry="2.28" fill="#6d010e"/><ellipse cx="496.1" cy="77.0" rx="1.52" ry="1.52" fill="#6d010e"/><ellipse cx="509.2" cy="78.5" rx="2.28" ry="2.28" fill="#6d010e"/><ellipse cx="503.1" cy="86.0" rx="1.90" ry="2.28" fill="#6d010e"/><ellipse cx="508.7" cy="88.0" rx="2.28" ry="3.80" fill="#6d010e"/><ellipse cx="514.2" cy="84.0" rx="1.90" ry="1.90" fill="#6d010e"/><ellipse cx="508.2" cy="95.6" rx="2.28" ry="2.28" fill="#6d010e"/><ellipse cx="496.6" cy="104.1" rx="3.42" ry="5.32" fill="#6d010e"/><ellipse cx="482.0" cy="107.2" rx="3.80" ry="3.80" fill="#6d010e"/><ellipse cx="513.2" cy="106.2" rx="2.28" ry="1.52" fill="#6d010e"/><ellipse cx="487.1" cy="124.2" rx="3.04" ry="4.56" fill="#6d010e"/><ellipse cx="512.2" cy="128.3" rx="1.14" ry="2.66" fill="#6d010e"/><ellipse cx="491.1" cy="138.8" rx="1.52" ry="1.52" fill="#6d010e"/><ellipse cx="496.6" cy="138.8" rx="1.52" ry="1.52" fill="#6d010e"/><ellipse cx="578.7" cy="112.2" rx="2.28" ry="2.28" fill="#6d010e"/><ellipse cx="359.1" cy="173.7" rx="1.52" ry="2.66" fill="#6d010e"/><ellipse cx="390.2" cy="193.3" rx="2.28" ry="3.04" fill="#6d010e"/><ellipse cx="445.7" cy="146.0" rx="2.66" ry="3.42" fill="#6d010e"/><ellipse cx="460.2" cy="141.0" rx="2.28" ry="1.52" fill="#6d010e"/><ellipse cx="468.3" cy="146.0" rx="2.66" ry="3.80" fill="#6d010e"/><ellipse cx="472.3" cy="150.0" rx="1.52" ry="1.52" fill="#6d010e"/><ellipse cx="430.1" cy="147.5" rx="1.52" ry="1.52" fill="#6d010e"/><ellipse cx="445.2" cy="161.6" rx="3.04" ry="3.80" fill="#6d010e"/><ellipse cx="460.2" cy="164.1" rx="3.04" ry="3.04" fill="#6d010e"/><ellipse cx="466.8" cy="165.6" rx="1.52" ry="1.52" fill="#6d010e"/><ellipse cx="472.8" cy="164.1" rx="2.28" ry="4.18" fill="#6d010e"/><ellipse cx="433.6" cy="167.1" rx="1.90" ry="1.90" fill="#6d010e"/><ellipse cx="445.2" cy="181.2" rx="2.28" ry="2.66" fill="#6d010e"/><ellipse cx="460.2" cy="186.2" rx="3.42" ry="3.04" fill="#6d010e"/><ellipse cx="471.8" cy="184.2" rx="2.66" ry="3.80" fill="#6d010e"/><ellipse cx="438.1" cy="196.3" rx="3.80" ry="3.80" fill="#6d010e"/><ellipse cx="445.2" cy="199.3" rx="2.28" ry="2.28" fill="#6d010e"/><ellipse cx="459.2" cy="199.3" rx="3.04" ry="3.42" fill="#6d010e"/><ellipse cx="490.1" cy="142.0" rx="1.52" ry="1.90" fill="#6d010e"/><ellipse cx="499.6" cy="145.5" rx="2.66" ry="3.42" fill="#6d010e"/><ellipse cx="496.1" cy="143.0" rx="1.52" ry="1.52" fill="#6d010e"/><ellipse cx="510.7" cy="143.0" rx="1.52" ry="2.28" fill="#6d010e"/><ellipse cx="507.2" cy="148.0" rx="1.37" ry="1.37" fill="#6d010e"/><ellipse cx="509.2" cy="157.1" rx="1.90" ry="3.04" fill="#6d010e"/><ellipse cx="497.6" cy="164.1" rx="3.42" ry="3.04" fill="#6d010e"/><ellipse cx="495.1" cy="169.1" rx="1.90" ry="1.90" fill="#6d010e"/><ellipse cx="485.1" cy="168.1" rx="2.66" ry="3.42" fill="#6d010e"/><ellipse cx="476.0" cy="165.1" rx="1.90" ry="3.80" fill="#6d010e"/><ellipse cx="506.2" cy="173.2" rx="1.14" ry="1.90" fill="#6d010e"/><ellipse cx="510.7" cy="171.2" rx="1.14" ry="2.28" fill="#6d010e"/><ellipse cx="497.6" cy="186.2" rx="3.80" ry="3.80" fill="#6d010e"/><ellipse cx="495.1" cy="190.3" rx="2.28" ry="2.28" fill="#6d010e"/><ellipse cx="507.2" cy="187.2" rx="1.52" ry="2.28" fill="#6d010e"/><ellipse cx="476.5" cy="184.2" rx="1.52" ry="3.04" fill="#6d010e"/><ellipse cx="500.1" cy="200.3" rx="2.28" ry="1.90" fill="#6d010e"/><ellipse cx="510.2" cy="202.3" rx="1.52" ry="1.52" fill="#6d010e"/><ellipse cx="576.7" cy="150.6" rx="1.67" ry="1.67" fill="#6d010e"/><ellipse cx="553.6" cy="189.7" rx="1.90" ry="1.52" fill="#6d010e"/><ellipse cx="591.3" cy="193.3" rx="1.52" ry="2.66" fill="#6d010e"/><ellipse cx="553.1" cy="201.8" rx="1.52" ry="1.52" fill="#6d010e"/><ellipse cx="347.5" cy="214.7" rx="1.14" ry="2.28" fill="#6d010e"/><ellipse cx="374.2" cy="223.7" rx="3.04" ry="2.13" fill="#6d010e"/><ellipse cx="383.3" cy="235.0" rx="1.90" ry="3.42" fill="#6d010e"/><ellipse cx="393.9" cy="242.4" rx="2.13" ry="3.04" fill="#6d010e"/><ellipse cx="404.6" cy="212.0" rx="1.52" ry="2.28" fill="#6d010e"/><ellipse cx="406.7" cy="245.6" rx="1.90" ry="1.90" fill="#6d010e"/><ellipse cx="438.1" cy="201.7" rx="1.52" ry="1.52" fill="#6d010e"/><ellipse cx="450.0" cy="203.4" rx="2.28" ry="3.04" fill="#6d010e"/><ellipse cx="459.6" cy="202.3" rx="2.66" ry="2.28" fill="#6d010e"/><ellipse cx="450.0" cy="208.5" rx="1.52" ry="1.52" fill="#6d010e"/><ellipse cx="468.7" cy="211.3" rx="1.52" ry="1.52" fill="#6d010e"/><ellipse cx="464.7" cy="256.6" rx="1.90" ry="2.66" fill="#6d010e"/><ellipse cx="477.3" cy="206.8" rx="2.28" ry="3.04" fill="#6d010e"/><ellipse cx="486.3" cy="209.6" rx="1.90" ry="3.04" fill="#6d010e"/><ellipse cx="501.6" cy="203.4" rx="3.42" ry="3.04" fill="#6d010e"/><ellipse cx="501.0" cy="209.6" rx="2.28" ry="2.66" fill="#6d010e"/><ellipse cx="513.5" cy="201.7" rx="1.52" ry="1.52" fill="#6d010e"/><ellipse cx="529.3" cy="268.4" rx="1.90" ry="1.90" fill="#6d010e"/><ellipse cx="543.5" cy="215.8" rx="1.90" ry="3.80" fill="#6d010e"/><ellipse cx="553.1" cy="204.5" rx="1.90" ry="2.66" fill="#6d010e"/><ellipse cx="555.4" cy="263.3" rx="1.90" ry="2.66" fill="#6d010e"/></g></g>
<rect x="431.1" y="80.5" width="83.39999999999998" height="127.19999999999999" fill="none" stroke="#111" stroke-width="1.2" stroke-dasharray="2.3 1.2"/>
<rect x="347.2" y="16.6" width="251.40000000000003" height="254.70000000000002" fill="none" stroke="#a6a6a6" stroke-width="1"/>
<text x="338" y="10.3" font-size="13.5" fill="#1a1a1a" class="t" textLength="48.5" lengthAdjust="spacingAndGlyphs">(b) LCZ8</text>
<line x1="391.6" y1="271.3" x2="391.6" y2="273.8" stroke="#555" stroke-width="0.8"/>
<text x="391.6" y="284" font-size="12" fill="#262626" text-anchor="middle" class="b">2000</text>
<line x1="436.4" y1="271.3" x2="436.4" y2="273.8" stroke="#555" stroke-width="0.8"/>
<text x="436.4" y="284" font-size="12" fill="#262626" text-anchor="middle" class="b">4000</text>
<line x1="481.2" y1="271.3" x2="481.2" y2="273.8" stroke="#555" stroke-width="0.8"/>
<text x="481.2" y="284" font-size="12" fill="#262626" text-anchor="middle" class="b">6000</text>
<line x1="526.0" y1="271.3" x2="526.0" y2="273.8" stroke="#555" stroke-width="0.8"/>
<text x="526.0" y="284" font-size="12" fill="#262626" text-anchor="middle" class="b">8000</text>
<line x1="570.8" y1="271.3" x2="570.8" y2="273.8" stroke="#555" stroke-width="0.8"/>
<text x="570.8" y="284" font-size="12" fill="#262626" text-anchor="middle" class="b">10000</text>
<line x1="344.7" y1="237.4" x2="347.2" y2="237.4" stroke="#555" stroke-width="0.8"/>
<text x="343.4" y="241.8" font-size="12" fill="#262626" text-anchor="end" class="b">1000</text>
<line x1="344.7" y1="203.2" x2="347.2" y2="203.2" stroke="#555" stroke-width="0.8"/>
<text x="343.4" y="207.6" font-size="12" fill="#262626" text-anchor="end" class="b">2000</text>
<line x1="344.7" y1="169.1" x2="347.2" y2="169.1" stroke="#555" stroke-width="0.8"/>
<text x="343.4" y="173.5" font-size="12" fill="#262626" text-anchor="end" class="b">3000</text>
<line x1="344.7" y1="134.9" x2="347.2" y2="134.9" stroke="#555" stroke-width="0.8"/>
<text x="343.4" y="139.3" font-size="12" fill="#262626" text-anchor="end" class="b">4000</text>
<line x1="344.7" y1="100.7" x2="347.2" y2="100.7" stroke="#555" stroke-width="0.8"/>
<text x="343.4" y="105.1" font-size="12" fill="#262626" text-anchor="end" class="b">5000</text>
<line x1="344.7" y1="66.5" x2="347.2" y2="66.5" stroke="#555" stroke-width="0.8"/>
<text x="343.4" y="70.9" font-size="12" fill="#262626" text-anchor="end" class="b">6000</text>
<line x1="344.7" y1="32.4" x2="347.2" y2="32.4" stroke="#555" stroke-width="0.8"/>
<text x="343.4" y="36.8" font-size="12" fill="#262626" text-anchor="end" class="b">7000</text>
<text x="473.4" y="296" font-size="12" fill="#262626" text-anchor="middle" font-style="italic" class="b">x (m)</text>
<text transform="translate(11,144) rotate(-90)" font-size="12" fill="#262626" text-anchor="middle" font-style="italic" class="b">y (m)</text>
<rect x="633.0" y="16.6" width="13.0" height="254.4" fill="url(#cb)"/>
<rect x="633.0" y="16.6" width="13.0" height="254.4" fill="none" stroke="#a6a6a6" stroke-width="0.8"/>
<line x1="646.0" y1="271.0" x2="647.8" y2="271.0" stroke="#555" stroke-width="0.8"/>
<text x="649.7" y="276.2" font-size="14.5" fill="#262626" class="b">0</text>
<line x1="646.0" y1="228.6" x2="647.8" y2="228.6" stroke="#555" stroke-width="0.8"/>
<text x="649.7" y="233.8" font-size="14.5" fill="#262626" class="b">5</text>
<line x1="646.0" y1="186.2" x2="647.8" y2="186.2" stroke="#555" stroke-width="0.8"/>
<text x="649.7" y="191.4" font-size="14.5" fill="#262626" class="b">10</text>
<line x1="646.0" y1="143.8" x2="647.8" y2="143.8" stroke="#555" stroke-width="0.8"/>
<text x="649.7" y="149.0" font-size="14.5" fill="#262626" class="b">15</text>
<line x1="646.0" y1="101.4" x2="647.8" y2="101.4" stroke="#555" stroke-width="0.8"/>
<text x="649.7" y="106.6" font-size="14.5" fill="#262626" class="b">20</text>
<line x1="646.0" y1="59.0" x2="647.8" y2="59.0" stroke="#555" stroke-width="0.8"/>
<text x="649.7" y="64.2" font-size="14.5" fill="#262626" class="b">25</text>
<line x1="646.0" y1="16.6" x2="647.8" y2="16.6" stroke="#555" stroke-width="0.8"/>
<text x="649.7" y="21.8" font-size="14.5" fill="#262626" class="b">30</text>
<text transform="translate(681.2,187) rotate(-90)" font-size="14" fill="#262626" font-style="italic" textLength="86.5" lengthAdjust="spacingAndGlyphs">LWP (g m<tspan dy="-5.5" font-size="9.5">−2</tspan><tspan dy="5.5">)</tspan></text>
<text x="160.5" y="319.6" font-size="13.5" fill="#1a1a1a" class="t" textLength="15" lengthAdjust="spacingAndGlyphs">(c)</text>
<rect x="162.4" y="332.5" width="340.1" height="257.0" fill="none" stroke="#a0a0a0" stroke-width="1"/>
<line x1="162.4" y1="589.5" x2="162.4" y2="586.1" stroke="#666" stroke-width="0.8"/>
<line x1="162.4" y1="332.5" x2="162.4" y2="335.9" stroke="#666" stroke-width="0.8"/>
<text x="162.4" y="608.5" font-size="15.5" fill="#3c3c3c" text-anchor="middle" font-family="Liberation Serif" style="font-family:'Liberation Serif',serif">0</text>
<line x1="247.4" y1="589.5" x2="247.4" y2="586.1" stroke="#666" stroke-width="0.8"/>
<line x1="247.4" y1="332.5" x2="247.4" y2="335.9" stroke="#666" stroke-width="0.8"/>
<text x="247.4" y="608.5" font-size="15.5" fill="#3c3c3c" text-anchor="middle" font-family="Liberation Serif" style="font-family:'Liberation Serif',serif">10</text>
<line x1="332.5" y1="589.5" x2="332.5" y2="586.1" stroke="#666" stroke-width="0.8"/>
<line x1="332.5" y1="332.5" x2="332.5" y2="335.9" stroke="#666" stroke-width="0.8"/>
<text x="332.5" y="608.5" font-size="15.5" fill="#3c3c3c" text-anchor="middle" font-family="Liberation Serif" style="font-family:'Liberation Serif',serif">20</text>
<line x1="417.5" y1="589.5" x2="417.5" y2="586.1" stroke="#666" stroke-width="0.8"/>
<line x1="417.5" y1="332.5" x2="417.5" y2="335.9" stroke="#666" stroke-width="0.8"/>
<text x="417.5" y="608.5" font-size="15.5" fill="#3c3c3c" text-anchor="middle" font-family="Liberation Serif" style="font-family:'Liberation Serif',serif">30</text>
<line x1="502.5" y1="589.5" x2="502.5" y2="586.1" stroke="#666" stroke-width="0.8"/>
<line x1="502.5" y1="332.5" x2="502.5" y2="335.9" stroke="#666" stroke-width="0.8"/>
<text x="502.5" y="608.5" font-size="15.5" fill="#3c3c3c" text-anchor="middle" font-family="Liberation Serif" style="font-family:'Liberation Serif',serif">40</text>
<line x1="162.4" y1="589.5" x2="165.8" y2="589.5" stroke="#666" stroke-width="0.8"/>
<line x1="502.5" y1="589.5" x2="499.1" y2="589.5" stroke="#666" stroke-width="0.8"/>
<text x="157.5" y="594.8" font-size="15.5" fill="#3c3c3c" text-anchor="end" style="font-family:'Liberation Serif',serif">0</text>
<line x1="162.4" y1="560.9" x2="165.8" y2="560.9" stroke="#666" stroke-width="0.8"/>
<line x1="502.5" y1="560.9" x2="499.1" y2="560.9" stroke="#666" stroke-width="0.8"/>
<text x="157.5" y="566.2" font-size="15.5" fill="#3c3c3c" text-anchor="end" style="font-family:'Liberation Serif',serif">2</text>
<line x1="162.4" y1="532.4" x2="165.8" y2="532.4" stroke="#666" stroke-width="0.8"/>
<line x1="502.5" y1="532.4" x2="499.1" y2="532.4" stroke="#666" stroke-width="0.8"/>
<text x="157.5" y="537.7" font-size="15.5" fill="#3c3c3c" text-anchor="end" style="font-family:'Liberation Serif',serif">4</text>
<line x1="162.4" y1="503.8" x2="165.8" y2="503.8" stroke="#666" stroke-width="0.8"/>
<line x1="502.5" y1="503.8" x2="499.1" y2="503.8" stroke="#666" stroke-width="0.8"/>
<text x="157.5" y="509.1" font-size="15.5" fill="#3c3c3c" text-anchor="end" style="font-family:'Liberation Serif',serif">6</text>
<line x1="162.4" y1="475.3" x2="165.8" y2="475.3" stroke="#666" stroke-width="0.8"/>
<line x1="502.5" y1="475.3" x2="499.1" y2="475.3" stroke="#666" stroke-width="0.8"/>
<text x="157.5" y="480.6" font-size="15.5" fill="#3c3c3c" text-anchor="end" style="font-family:'Liberation Serif',serif">8</text>
<line x1="162.4" y1="446.7" x2="165.8" y2="446.7" stroke="#666" stroke-width="0.8"/>
<line x1="502.5" y1="446.7" x2="499.1" y2="446.7" stroke="#666" stroke-width="0.8"/>
<text x="157.5" y="452.0" font-size="15.5" fill="#3c3c3c" text-anchor="end" style="font-family:'Liberation Serif',serif">10</text>
<line x1="162.4" y1="418.2" x2="165.8" y2="418.2" stroke="#666" stroke-width="0.8"/>
<line x1="502.5" y1="418.2" x2="499.1" y2="418.2" stroke="#666" stroke-width="0.8"/>
<text x="157.5" y="423.5" font-size="15.5" fill="#3c3c3c" text-anchor="end" style="font-family:'Liberation Serif',serif">12</text>
<line x1="162.4" y1="389.6" x2="165.8" y2="389.6" stroke="#666" stroke-width="0.8"/>
<line x1="502.5" y1="389.6" x2="499.1" y2="389.6" stroke="#666" stroke-width="0.8"/>
<text x="157.5" y="394.9" font-size="15.5" fill="#3c3c3c" text-anchor="end" style="font-family:'Liberation Serif',serif">14</text>
<line x1="162.4" y1="361.1" x2="165.8" y2="361.1" stroke="#666" stroke-width="0.8"/>
<line x1="502.5" y1="361.1" x2="499.1" y2="361.1" stroke="#666" stroke-width="0.8"/>
<text x="157.5" y="366.4" font-size="15.5" fill="#3c3c3c" text-anchor="end" style="font-family:'Liberation Serif',serif">16</text>
<line x1="162.4" y1="332.5" x2="165.8" y2="332.5" stroke="#666" stroke-width="0.8"/>
<line x1="502.5" y1="332.5" x2="499.1" y2="332.5" stroke="#666" stroke-width="0.8"/>
<text x="157.5" y="337.8" font-size="15.5" fill="#3c3c3c" text-anchor="end" style="font-family:'Liberation Serif',serif">18</text>
<text x="468.8" y="351.8" font-size="10.6" fill="#262626">LCZ8</text>
<text x="361.5" y="474.2" font-size="10.6" fill="#262626">LCZ4</text>
<text x="365.8" y="490.8" font-size="10.6" fill="#262626">LCZ6</text>
<text x="316.7" y="508.6" font-size="10.6" fill="#262626">LCZ5</text>
<text x="262.9" y="512.7" font-size="10.6" fill="#262626">LCZ1</text>
<text x="231.6" y="522.5" font-size="10.6" fill="#262626">LCZ3</text>
<text x="252.1" y="556" font-size="10.6" fill="#262626">LCZ1_dense</text>
<circle cx="226.7" cy="551.2" r="4.5" fill="#d95319"/>
<circle cx="269.7" cy="518" r="4.5" fill="#d95319"/>
<circle cx="300.6" cy="508.8" r="4.5" fill="#d95319"/>
<circle cx="304.0" cy="502.8" r="4.5" fill="#d95319"/>
<circle cx="374.2" cy="462.7" r="4.5" fill="#d95319"/>
<circle cx="378.4" cy="479.3" r="4.5" fill="#d95319"/>
<circle cx="490.2" cy="354.9" r="4.5" fill="#d95319"/>
<line x1="182.8" y1="589.5" x2="502.5" y2="365.2" stroke="#000" stroke-width="1.7"/>
<g class="s" transform="translate(134.3,527) rotate(-90)" fill="#474747" font-style="italic">
<text x="0" y="0" font-size="18" textLength="40.6" lengthAdjust="spacingAndGlyphs">LWP</text>
<text x="38.7" y="3.4" font-size="12.5" textLength="30" lengthAdjust="spacingAndGlyphs">urban</text>
<text x="77.5" y="0" font-size="18" class="n">(</text>
<text x="83.3" y="0" font-size="18" textLength="8" lengthAdjust="spacingAndGlyphs">g</text>
<text x="95.3" y="0" font-size="18" textLength="16" lengthAdjust="spacingAndGlyphs">m</text>
<text x="112.2" y="-7.5" font-size="12.5" textLength="14.6" lengthAdjust="spacingAndGlyphs" class="n">−2</text>
<text x="127.2" y="0" font-size="18" class="n">)</text>
</g>
<g class="s" fill="#474747" font-style="italic">
<text x="231.5" y="631" font-size="21" class="n">∫</text>
<text x="243.5" y="620.2" font-size="10">L</text>
<text x="250.8" y="622" font-size="7.5">z</text>
<text x="241.2" y="633" font-size="10">L</text>
<text x="247.8" y="636.5" font-size="8" textLength="13" lengthAdjust="spacingAndGlyphs">CB</text>
<text x="266.6" y="627.8" font-size="17.5" textLength="38.6" lengthAdjust="spacingAndGlyphs">TKE</text>
<text x="305.5" y="631.4" font-size="12.5" textLength="43.6" lengthAdjust="spacingAndGlyphs">w,urban</text>
<text x="349.3" y="628.2" font-size="17.5" textLength="16.6" lengthAdjust="spacingAndGlyphs">dz</text>
<text x="373" y="628.2" font-size="17.5" class="n">(</text>
<text x="378.2" y="628.2" font-size="17.5" textLength="18" lengthAdjust="spacingAndGlyphs">kg</text>
<text x="402.6" y="628.2" font-size="17.5" textLength="6.8" lengthAdjust="spacingAndGlyphs">s</text>
<text x="410" y="624" font-size="12.5" textLength="15.4" lengthAdjust="spacingAndGlyphs" class="n">−2</text>
<text x="426.3" y="628.2" font-size="17.5" class="n">)</text>
</g>
</svg></body></html>
